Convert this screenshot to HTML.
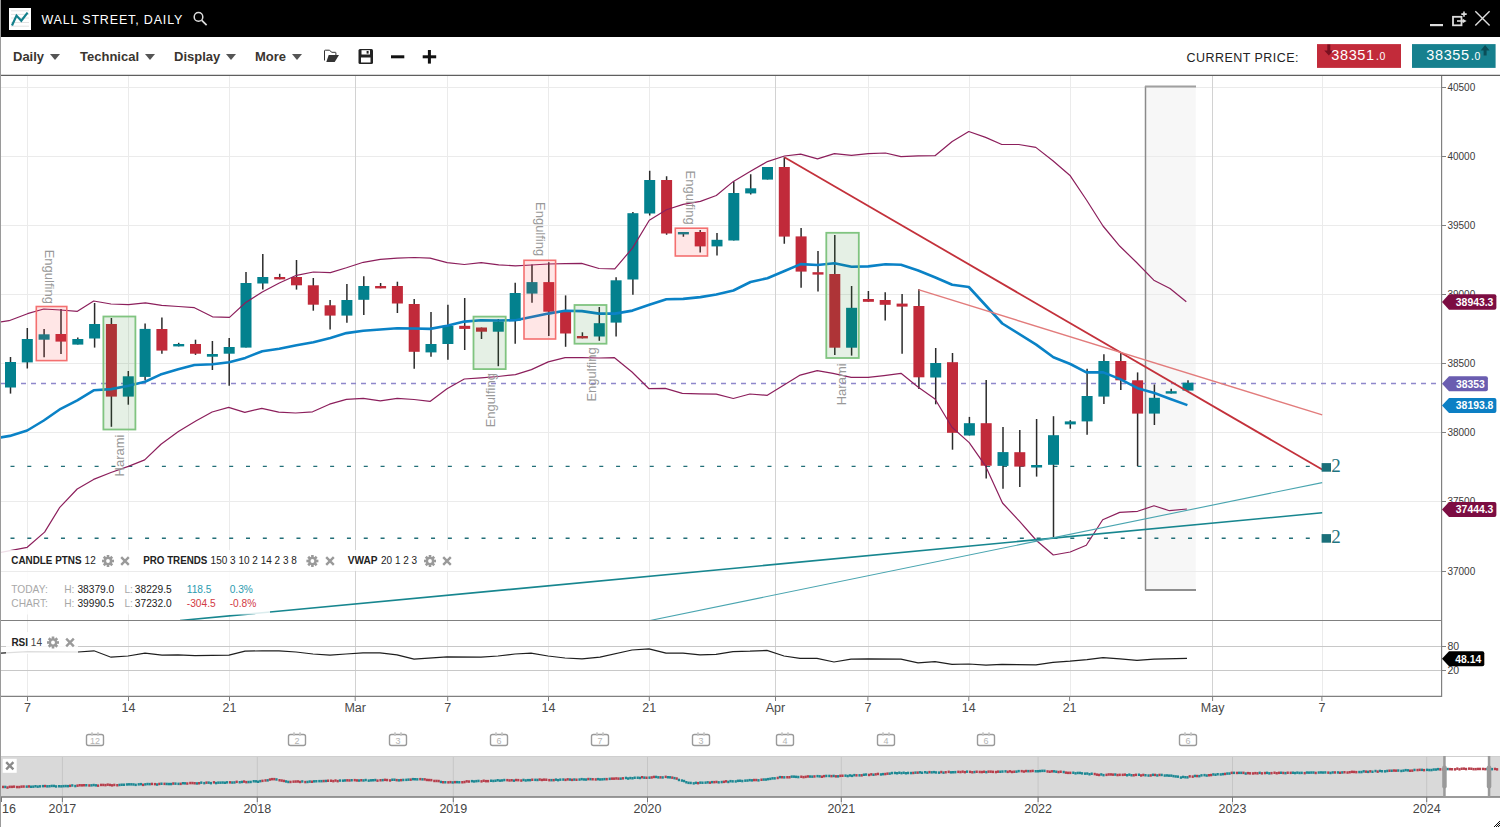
<!DOCTYPE html>
<html><head><meta charset="utf-8">
<style>
*{margin:0;padding:0;box-sizing:border-box}
html,body{width:1500px;height:827px;overflow:hidden;background:#fff;font-family:"Liberation Sans",sans-serif}
#hdr{position:absolute;left:0;top:0;width:1500px;height:37px;background:#000}
#tb{position:absolute;left:0;top:37px;width:1500px;height:38px;background:#fff}
.menu{position:absolute;top:12px;font-size:13px;font-weight:bold;color:#3a3530;white-space:nowrap}
.tri{display:inline-block;width:0;height:0;border-left:5px solid transparent;border-right:5px solid transparent;border-top:6px solid #555;vertical-align:middle;margin-left:6px;position:relative;top:-1px}
#lb{position:absolute;left:0;top:0;width:1px;height:827px;background:#9a9a9a}
svg{position:absolute;left:0;top:0}
</style></head><body>
<div id="hdr">
 <svg width="1500" height="37" style="position:absolute;left:0;top:0">
  <rect x="9" y="8" width="22" height="22" fill="#fff"/>
  <g stroke="#e2e2e2" stroke-width="1"><line x1="11" y1="10.8" x2="29" y2="10.8"/><line x1="11" y1="14.4" x2="29" y2="14.4"/><line x1="11" y1="18" x2="29" y2="18"/><line x1="11" y1="22.5" x2="29" y2="22.5"/><line x1="11" y1="26.2" x2="29" y2="26.2"/></g>
  <polyline points="12,25.5 16.5,15.6 21.3,20.7 27.6,12.6" fill="none" stroke="#13808c" stroke-width="2.2"/>
  <text x="41.4" y="24" font-size="12.5" fill="#fff" textLength="141" lengthAdjust="spacing">WALL STREET, DAILY</text>
  <circle cx="198.5" cy="16.9" r="4.3" fill="none" stroke="#ddd" stroke-width="1.5"/>
  <line x1="201.8" y1="20.3" x2="206.6" y2="25.2" stroke="#ddd" stroke-width="1.7"/>
  <rect x="1430" y="24" width="13" height="2.2" fill="#ddd"/>
  <rect x="1453" y="16.8" width="8.5" height="8.5" fill="none" stroke="#ddd" stroke-width="1.8"/>
  <path d="M1457 21 L1463 21" stroke="#ddd" stroke-width="1.6"/><path d="M1462.6 18.8 L1466.6 21 L1462.6 23.2Z" fill="#ddd"/>
  <path d="M1464 11.4 V16.8 M1461.3 14.1 H1466.7" stroke="#ddd" stroke-width="1.6"/>
  <path d="M1475.3 11.3 L1489.6 25.6 M1489.6 11.3 L1475.3 25.6" stroke="#ddd" stroke-width="1.4"/>
 </svg>
</div>
<div id="tb">
 <div class="menu" style="left:13px">Daily<span class="tri"></span></div>
 <div class="menu" style="left:80px">Technical<span class="tri"></span></div>
 <div class="menu" style="left:174px">Display<span class="tri"></span></div>
 <div class="menu" style="left:255px">More<span class="tri"></span></div>
 <svg width="1500" height="39" style="position:absolute;left:0;top:0">
  <path d="M324.5 23.5 V13.8 Q324.5 13.2 325.2 13.2 H329.3 L331.9 15.3 H335.3 Q335.9 15.3 335.9 15.9 V18.3" fill="none" stroke="#333" stroke-width="1"/>
  <path d="M328.7 18 H339 L334.7 25 H326.3 Z" fill="#333"/>
  <rect x="358.5" y="12" width="14.5" height="15" rx="1.5" fill="#222"/>
  <rect x="361.5" y="13.2" width="8.5" height="4.3" fill="#fff"/>
  <rect x="361" y="20.5" width="9.5" height="5" fill="#fff"/>
  <rect x="366.6" y="14" width="2" height="2.6" fill="#222"/>
  <rect x="391" y="18.3" width="13.3" height="3" fill="#111"/>
  <rect x="422.7" y="18.3" width="13.5" height="3" fill="#111"/>
  <rect x="427.9" y="13" width="3" height="13.6" fill="#111"/>
  <text x="1186.5" y="25" font-size="12.5" fill="#222" textLength="112" lengthAdjust="spacing">CURRENT PRICE:</text>
  <rect x="1317" y="7.1" width="84" height="23.8" fill="#c22b3a"/>
  <path d="M1327.3 7.5 v6 h-3 l4.5 5 l4.5 -5 h-3 v-6z" fill="#7a1020"/>
  <text x="1331.3" y="23" font-size="14.5" fill="#fff" letter-spacing="0.6">38351<tspan font-size="12" dx="1">.</tspan><tspan font-size="10.5">0</tspan></text>
  <rect x="1412" y="7.1" width="83.6" height="23.8" fill="#16808e"/>
  <path d="M1486.6 18.5 v-5 h3 l-4.5 -5.5 l-4.5 5.5 h3 v5z" fill="#0a4e58"/>
  <text x="1426.3" y="23" font-size="14.5" fill="#fff" letter-spacing="0.6">38355<tspan font-size="12" dx="1">.</tspan><tspan font-size="10.5">0</tspan></text>
 </svg>
</div>
<svg width="1500" height="827" style="position:absolute;left:0;top:0">
<line x1="0" y1="75.4" x2="1500" y2="75.4" stroke="#5f5f5f" stroke-width="1.4"/>
<defs><clipPath id="cp"><rect x="1" y="76" width="1440.5" height="544"/></clipPath><clipPath id="rp"><rect x="1" y="621" width="1440.5" height="75"/></clipPath></defs>
<g clip-path="url(#cp)">
<rect x="1145.3" y="86" width="50.4" height="504" fill="#f7f7f7"/>
<line x1="1" y1="87.5" x2="1441" y2="87.5" stroke="#ebebeb" stroke-width="1"/>
<line x1="1" y1="156.5" x2="1441" y2="156.5" stroke="#ebebeb" stroke-width="1"/>
<line x1="1" y1="225.5" x2="1441" y2="225.5" stroke="#ebebeb" stroke-width="1"/>
<line x1="1" y1="294.5" x2="1441" y2="294.5" stroke="#ebebeb" stroke-width="1"/>
<line x1="1" y1="363.5" x2="1441" y2="363.5" stroke="#ebebeb" stroke-width="1"/>
<line x1="1" y1="432.5" x2="1441" y2="432.5" stroke="#ebebeb" stroke-width="1"/>
<line x1="1" y1="501.5" x2="1441" y2="501.5" stroke="#ebebeb" stroke-width="1"/>
<line x1="1" y1="571.5" x2="1441" y2="571.5" stroke="#ebebeb" stroke-width="1"/>
<line x1="27.5" y1="76" x2="27.5" y2="620" stroke="#ebebeb" stroke-width="1"/>
<line x1="128.5" y1="76" x2="128.5" y2="620" stroke="#ebebeb" stroke-width="1"/>
<line x1="229.5" y1="76" x2="229.5" y2="620" stroke="#ebebeb" stroke-width="1"/>
<line x1="447.5" y1="76" x2="447.5" y2="620" stroke="#ebebeb" stroke-width="1"/>
<line x1="548.5" y1="76" x2="548.5" y2="620" stroke="#ebebeb" stroke-width="1"/>
<line x1="649.5" y1="76" x2="649.5" y2="620" stroke="#ebebeb" stroke-width="1"/>
<line x1="868.5" y1="76" x2="868.5" y2="620" stroke="#ebebeb" stroke-width="1"/>
<line x1="969.5" y1="76" x2="969.5" y2="620" stroke="#ebebeb" stroke-width="1"/>
<line x1="1070.5" y1="76" x2="1070.5" y2="620" stroke="#ebebeb" stroke-width="1"/>
<line x1="1322.5" y1="76" x2="1322.5" y2="620" stroke="#ebebeb" stroke-width="1"/>
<line x1="355.5" y1="76" x2="355.5" y2="620" stroke="#d2d2d2" stroke-width="1"/>
<line x1="775.5" y1="76" x2="775.5" y2="620" stroke="#d2d2d2" stroke-width="1"/>
<line x1="1212.5" y1="76" x2="1212.5" y2="620" stroke="#d2d2d2" stroke-width="1"/>
<line x1="1145.5" y1="86" x2="1145.5" y2="590" stroke="#8a8a8a" stroke-width="1.5"/>
<line x1="1145" y1="86.4" x2="1196" y2="86.4" stroke="#a0a0a0" stroke-width="2"/>
<line x1="1145" y1="590" x2="1196" y2="590" stroke="#8f8f8f" stroke-width="1.8"/>
<line x1="1" y1="383.4" x2="1441" y2="383.4" stroke="#8f88cc" stroke-width="1.5" stroke-dasharray="5 5"/>
<line x1="10.5" y1="466.4" x2="1326" y2="466.4" stroke="#226f78" stroke-width="1.4" stroke-dasharray="4 12.822"/>
<line x1="10.5" y1="538.3" x2="1326" y2="538.3" stroke="#226f78" stroke-width="1.4" stroke-dasharray="4 12.822"/>
<line x1="10.5" y1="357.0" x2="10.5" y2="393.6" stroke="#2b2b2b" stroke-width="1.5"/>
<rect x="5.0" y="362.0" width="11" height="25.5" fill="#03818e"/>
<line x1="27.3" y1="328.0" x2="27.3" y2="368.5" stroke="#2b2b2b" stroke-width="1.5"/>
<rect x="21.8" y="339.0" width="11" height="23.4" fill="#03818e"/>
<line x1="44.1" y1="329.0" x2="44.1" y2="357.3" stroke="#2b2b2b" stroke-width="1.5"/>
<rect x="38.6" y="334.3" width="11" height="5.4" fill="#03818e"/>
<line x1="61.0" y1="309.0" x2="61.0" y2="354.0" stroke="#2b2b2b" stroke-width="1.5"/>
<rect x="55.5" y="334.0" width="11" height="7.6" fill="#c12a3a"/>
<line x1="77.8" y1="337.6" x2="77.8" y2="344.6" stroke="#2b2b2b" stroke-width="1.5"/>
<rect x="72.3" y="339.0" width="11" height="5.6" fill="#03818e"/>
<line x1="94.6" y1="303.0" x2="94.6" y2="347.6" stroke="#2b2b2b" stroke-width="1.5"/>
<rect x="89.1" y="324.0" width="11" height="14.5" fill="#03818e"/>
<line x1="111.4" y1="318.0" x2="111.4" y2="426.8" stroke="#2b2b2b" stroke-width="1.5"/>
<rect x="105.9" y="324.0" width="11" height="72.6" fill="#c12a3a"/>
<line x1="128.3" y1="371.0" x2="128.3" y2="404.7" stroke="#2b2b2b" stroke-width="1.5"/>
<rect x="122.8" y="376.3" width="11" height="20.3" fill="#03818e"/>
<line x1="145.1" y1="323.4" x2="145.1" y2="380.3" stroke="#2b2b2b" stroke-width="1.5"/>
<rect x="139.6" y="328.9" width="11" height="48.0" fill="#03818e"/>
<line x1="161.9" y1="317.4" x2="161.9" y2="353.7" stroke="#2b2b2b" stroke-width="1.5"/>
<rect x="156.4" y="329.0" width="11" height="21.6" fill="#c12a3a"/>
<line x1="178.7" y1="342.8" x2="178.7" y2="346.4" stroke="#2b2b2b" stroke-width="1.5"/>
<rect x="173.2" y="344.0" width="11" height="2.4" fill="#03818e"/>
<line x1="195.5" y1="339.7" x2="195.5" y2="354.9" stroke="#2b2b2b" stroke-width="1.5"/>
<rect x="190.0" y="344.0" width="11" height="9.7" fill="#c12a3a"/>
<line x1="212.4" y1="341.0" x2="212.4" y2="370.0" stroke="#2b2b2b" stroke-width="1.5"/>
<rect x="206.9" y="354.0" width="11" height="2.7" fill="#03818e"/>
<line x1="229.2" y1="338.0" x2="229.2" y2="385.7" stroke="#2b2b2b" stroke-width="1.5"/>
<rect x="223.7" y="347.0" width="11" height="6.7" fill="#03818e"/>
<line x1="246.0" y1="272.0" x2="246.0" y2="347.6" stroke="#2b2b2b" stroke-width="1.5"/>
<rect x="240.5" y="283.0" width="11" height="64.6" fill="#03818e"/>
<line x1="262.8" y1="254.0" x2="262.8" y2="289.6" stroke="#2b2b2b" stroke-width="1.5"/>
<rect x="257.3" y="277.0" width="11" height="6.5" fill="#03818e"/>
<line x1="279.7" y1="273.8" x2="279.7" y2="279.3" stroke="#2b2b2b" stroke-width="1.5"/>
<rect x="274.2" y="277.0" width="11" height="2.4" fill="#c12a3a"/>
<line x1="296.5" y1="260.0" x2="296.5" y2="289.6" stroke="#2b2b2b" stroke-width="1.5"/>
<rect x="291.0" y="277.0" width="11" height="8.3" fill="#c12a3a"/>
<line x1="313.3" y1="278.0" x2="313.3" y2="310.7" stroke="#2b2b2b" stroke-width="1.5"/>
<rect x="307.8" y="285.3" width="11" height="19.4" fill="#c12a3a"/>
<line x1="330.1" y1="300.0" x2="330.1" y2="329.5" stroke="#2b2b2b" stroke-width="1.5"/>
<rect x="324.6" y="305.3" width="11" height="10.3" fill="#c12a3a"/>
<line x1="346.9" y1="284.0" x2="346.9" y2="322.8" stroke="#2b2b2b" stroke-width="1.5"/>
<rect x="341.4" y="300.0" width="11" height="15.6" fill="#03818e"/>
<line x1="363.8" y1="276.3" x2="363.8" y2="315.0" stroke="#2b2b2b" stroke-width="1.5"/>
<rect x="358.3" y="286.0" width="11" height="13.8" fill="#03818e"/>
<line x1="380.6" y1="283.0" x2="380.6" y2="288.3" stroke="#2b2b2b" stroke-width="1.5"/>
<rect x="375.1" y="286.0" width="11" height="2.4" fill="#c12a3a"/>
<line x1="397.4" y1="281.7" x2="397.4" y2="313.0" stroke="#2b2b2b" stroke-width="1.5"/>
<rect x="391.9" y="286.0" width="11" height="17.5" fill="#c12a3a"/>
<line x1="414.2" y1="299.0" x2="414.2" y2="368.8" stroke="#2b2b2b" stroke-width="1.5"/>
<rect x="408.7" y="304.0" width="11" height="47.8" fill="#c12a3a"/>
<line x1="431.0" y1="312.0" x2="431.0" y2="356.7" stroke="#2b2b2b" stroke-width="1.5"/>
<rect x="425.5" y="344.0" width="11" height="8.4" fill="#03818e"/>
<line x1="447.9" y1="304.7" x2="447.9" y2="359.7" stroke="#2b2b2b" stroke-width="1.5"/>
<rect x="442.4" y="325.8" width="11" height="18.2" fill="#03818e"/>
<line x1="464.7" y1="298.0" x2="464.7" y2="350.0" stroke="#2b2b2b" stroke-width="1.5"/>
<rect x="459.2" y="325.8" width="11" height="3.1" fill="#c12a3a"/>
<line x1="481.5" y1="327.5" x2="481.5" y2="339.0" stroke="#2b2b2b" stroke-width="1.5"/>
<rect x="476.0" y="327.5" width="11" height="4.2" fill="#c12a3a"/>
<line x1="498.3" y1="319.0" x2="498.3" y2="366.2" stroke="#2b2b2b" stroke-width="1.5"/>
<rect x="492.8" y="321.4" width="11" height="10.3" fill="#03818e"/>
<line x1="515.2" y1="282.7" x2="515.2" y2="343.8" stroke="#2b2b2b" stroke-width="1.5"/>
<rect x="509.7" y="293.0" width="11" height="27.8" fill="#03818e"/>
<line x1="532.0" y1="264.6" x2="532.0" y2="302.7" stroke="#2b2b2b" stroke-width="1.5"/>
<rect x="526.5" y="282.1" width="11" height="11.5" fill="#03818e"/>
<line x1="548.8" y1="262.2" x2="548.8" y2="335.9" stroke="#2b2b2b" stroke-width="1.5"/>
<rect x="543.3" y="282.1" width="11" height="29.6" fill="#c12a3a"/>
<line x1="565.6" y1="295.4" x2="565.6" y2="346.8" stroke="#2b2b2b" stroke-width="1.5"/>
<rect x="560.1" y="311.7" width="11" height="21.8" fill="#c12a3a"/>
<line x1="582.4" y1="332.3" x2="582.4" y2="338.4" stroke="#2b2b2b" stroke-width="1.5"/>
<rect x="576.9" y="336.0" width="11" height="2.4" fill="#c12a3a"/>
<line x1="599.3" y1="307.0" x2="599.3" y2="340.8" stroke="#2b2b2b" stroke-width="1.5"/>
<rect x="593.8" y="323.2" width="11" height="13.3" fill="#03818e"/>
<line x1="616.1" y1="277.3" x2="616.1" y2="336.5" stroke="#2b2b2b" stroke-width="1.5"/>
<rect x="610.6" y="280.3" width="11" height="42.3" fill="#03818e"/>
<line x1="632.9" y1="212.0" x2="632.9" y2="294.8" stroke="#2b2b2b" stroke-width="1.5"/>
<rect x="627.4" y="213.2" width="11" height="66.3" fill="#03818e"/>
<line x1="649.7" y1="170.8" x2="649.7" y2="215.6" stroke="#2b2b2b" stroke-width="1.5"/>
<rect x="644.2" y="180.0" width="11" height="33.5" fill="#03818e"/>
<line x1="666.6" y1="176.2" x2="666.6" y2="234.8" stroke="#2b2b2b" stroke-width="1.5"/>
<rect x="661.1" y="180.0" width="11" height="53.5" fill="#c12a3a"/>
<line x1="683.4" y1="232.0" x2="683.4" y2="236.8" stroke="#2b2b2b" stroke-width="1.5"/>
<rect x="677.9" y="232.0" width="11" height="2.4" fill="#03818e"/>
<line x1="700.2" y1="230.0" x2="700.2" y2="252.6" stroke="#2b2b2b" stroke-width="1.5"/>
<rect x="694.7" y="232.0" width="11" height="14.4" fill="#c12a3a"/>
<line x1="717.0" y1="232.9" x2="717.0" y2="255.6" stroke="#2b2b2b" stroke-width="1.5"/>
<rect x="711.5" y="239.8" width="11" height="6.6" fill="#03818e"/>
<line x1="733.8" y1="181.4" x2="733.8" y2="240.5" stroke="#2b2b2b" stroke-width="1.5"/>
<rect x="728.3" y="193.0" width="11" height="47.5" fill="#03818e"/>
<line x1="750.7" y1="174.2" x2="750.7" y2="194.5" stroke="#2b2b2b" stroke-width="1.5"/>
<rect x="745.2" y="188.3" width="11" height="5.1" fill="#03818e"/>
<line x1="767.5" y1="167.0" x2="767.5" y2="179.6" stroke="#2b2b2b" stroke-width="1.5"/>
<rect x="762.0" y="167.0" width="11" height="12.6" fill="#03818e"/>
<line x1="784.3" y1="157.2" x2="784.3" y2="243.8" stroke="#2b2b2b" stroke-width="1.5"/>
<rect x="778.8" y="167.0" width="11" height="69.6" fill="#c12a3a"/>
<line x1="801.1" y1="228.0" x2="801.1" y2="287.7" stroke="#2b2b2b" stroke-width="1.5"/>
<rect x="795.6" y="236.4" width="11" height="35.2" fill="#c12a3a"/>
<line x1="818.0" y1="251.0" x2="818.0" y2="291.6" stroke="#2b2b2b" stroke-width="1.5"/>
<rect x="812.5" y="272.2" width="11" height="2.4" fill="#c12a3a"/>
<line x1="834.8" y1="235.1" x2="834.8" y2="355.0" stroke="#2b2b2b" stroke-width="1.5"/>
<rect x="829.3" y="274.0" width="11" height="73.7" fill="#c12a3a"/>
<line x1="851.6" y1="286.0" x2="851.6" y2="355.6" stroke="#2b2b2b" stroke-width="1.5"/>
<rect x="846.1" y="307.8" width="11" height="39.9" fill="#03818e"/>
<line x1="868.4" y1="291.0" x2="868.4" y2="301.8" stroke="#2b2b2b" stroke-width="1.5"/>
<rect x="862.9" y="299.0" width="11" height="2.8" fill="#c12a3a"/>
<line x1="885.2" y1="292.2" x2="885.2" y2="320.5" stroke="#2b2b2b" stroke-width="1.5"/>
<rect x="879.7" y="300.0" width="11" height="4.8" fill="#c12a3a"/>
<line x1="902.1" y1="294.0" x2="902.1" y2="353.7" stroke="#2b2b2b" stroke-width="1.5"/>
<rect x="896.6" y="303.6" width="11" height="3.0" fill="#c12a3a"/>
<line x1="918.9" y1="289.0" x2="918.9" y2="389.0" stroke="#2b2b2b" stroke-width="1.5"/>
<rect x="913.4" y="306.0" width="11" height="71.3" fill="#c12a3a"/>
<line x1="935.7" y1="348.0" x2="935.7" y2="404.3" stroke="#2b2b2b" stroke-width="1.5"/>
<rect x="930.2" y="363.0" width="11" height="14.5" fill="#03818e"/>
<line x1="952.5" y1="353.0" x2="952.5" y2="449.7" stroke="#2b2b2b" stroke-width="1.5"/>
<rect x="947.0" y="362.2" width="11" height="70.6" fill="#c12a3a"/>
<line x1="969.4" y1="416.9" x2="969.4" y2="435.5" stroke="#2b2b2b" stroke-width="1.5"/>
<rect x="963.9" y="423.2" width="11" height="12.3" fill="#03818e"/>
<line x1="986.2" y1="380.0" x2="986.2" y2="478.6" stroke="#2b2b2b" stroke-width="1.5"/>
<rect x="980.7" y="423.2" width="11" height="42.5" fill="#c12a3a"/>
<line x1="1003.0" y1="427.0" x2="1003.0" y2="488.8" stroke="#2b2b2b" stroke-width="1.5"/>
<rect x="997.5" y="452.1" width="11" height="13.8" fill="#03818e"/>
<line x1="1019.8" y1="430.0" x2="1019.8" y2="487.0" stroke="#2b2b2b" stroke-width="1.5"/>
<rect x="1014.3" y="452.2" width="11" height="14.4" fill="#c12a3a"/>
<line x1="1036.6" y1="419.0" x2="1036.6" y2="476.6" stroke="#2b2b2b" stroke-width="1.5"/>
<rect x="1031.1" y="465.0" width="11" height="2.5" fill="#03818e"/>
<line x1="1053.5" y1="416.2" x2="1053.5" y2="537.5" stroke="#2b2b2b" stroke-width="1.5"/>
<rect x="1048.0" y="435.2" width="11" height="29.6" fill="#03818e"/>
<line x1="1070.3" y1="420.2" x2="1070.3" y2="428.7" stroke="#2b2b2b" stroke-width="1.5"/>
<rect x="1064.8" y="421.4" width="11" height="3.0" fill="#03818e"/>
<line x1="1087.1" y1="368.8" x2="1087.1" y2="434.7" stroke="#2b2b2b" stroke-width="1.5"/>
<rect x="1081.6" y="396.0" width="11" height="25.4" fill="#03818e"/>
<line x1="1103.9" y1="354.3" x2="1103.9" y2="403.9" stroke="#2b2b2b" stroke-width="1.5"/>
<rect x="1098.4" y="361.0" width="11" height="35.6" fill="#03818e"/>
<line x1="1120.8" y1="353.1" x2="1120.8" y2="390.0" stroke="#2b2b2b" stroke-width="1.5"/>
<rect x="1115.3" y="361.0" width="11" height="19.3" fill="#c12a3a"/>
<line x1="1137.6" y1="372.4" x2="1137.6" y2="466.2" stroke="#2b2b2b" stroke-width="1.5"/>
<rect x="1132.1" y="380.3" width="11" height="33.3" fill="#c12a3a"/>
<line x1="1154.4" y1="384.5" x2="1154.4" y2="425.0" stroke="#2b2b2b" stroke-width="1.5"/>
<rect x="1148.9" y="397.8" width="11" height="15.8" fill="#03818e"/>
<line x1="1171.2" y1="388.8" x2="1171.2" y2="393.6" stroke="#2b2b2b" stroke-width="1.5"/>
<rect x="1165.7" y="391.2" width="11" height="2.4" fill="#03818e"/>
<line x1="1188.0" y1="380.3" x2="1188.0" y2="390.6" stroke="#2b2b2b" stroke-width="1.5"/>
<rect x="1182.5" y="382.7" width="11" height="7.9" fill="#03818e"/>
<polyline points="0.0,322.0 9.0,320.7 27.5,313.7 43.8,309.0 60.5,310.0 77.4,311.3 93.7,301.0 111.0,304.0 128.5,304.7 145.4,302.9 161.7,305.3 178.4,306.5 194.4,307.7 212.5,316.8 229.5,317.4 245.4,302.8 262.3,292.0 279.3,283.0 296.5,275.3 313.4,272.0 330.4,272.6 346.4,267.8 363.3,262.3 380.3,259.3 397.2,258.1 414.4,257.5 430.1,258.1 447.1,262.7 464.3,264.5 481.2,262.7 498.7,264.9 515.4,265.8 531.4,265.0 548.3,264.0 565.2,263.7 581.6,263.4 599.0,268.5 614.8,268.8 632.5,248.1 649.3,220.3 666.4,209.7 683.2,204.4 700.4,201.4 716.3,195.5 733.4,181.4 750.5,171.3 767.4,161.6 784.5,156.0 800.7,154.2 817.5,158.9 834.4,153.6 851.5,155.4 868.3,153.6 885.4,153.0 901.0,156.6 918.2,155.8 935.0,155.7 952.2,141.5 968.8,131.5 985.6,137.4 1001.8,144.5 1018.7,144.5 1035.8,147.4 1052.9,160.7 1070.3,175.8 1086.5,200.0 1103.0,226.0 1119.9,246.3 1136.1,262.0 1153.8,280.2 1170.0,288.5 1186.3,301.8" fill="none" stroke="#8c1f5c" stroke-width="1.2" stroke-linejoin="round"/>
<polyline points="0.0,552.5 27.2,547.3 44.6,532.1 59.8,507.3 77.2,489.0 93.6,479.4 111.0,472.5 128.4,466.4 144.7,459.9 161.0,444.2 178.4,431.6 195.8,421.1 212.1,412.0 228.6,407.4 244.8,412.4 261.8,408.3 278.7,412.2 295.6,413.0 312.6,411.8 329.5,404.2 346.4,399.4 363.3,398.4 380.3,400.8 397.2,398.4 414.0,399.5 430.0,401.4 447.0,388.7 464.3,379.0 481.0,377.8 498.0,376.5 515.4,374.6 531.4,369.6 548.2,361.9 565.1,357.6 582.0,357.6 599.0,358.0 614.5,357.7 632.0,372.0 649.0,388.7 665.3,388.3 682.3,393.3 699.0,393.8 716.3,394.2 733.3,398.5 749.9,394.0 767.3,395.3 784.0,385.0 800.2,375.1 817.2,370.6 833.0,373.3 851.2,377.4 868.2,377.4 884.0,375.6 901.0,373.3 918.0,387.0 935.0,399.0 952.0,427.3 969.2,442.6 985.3,465.6 1002.5,503.0 1019.4,521.2 1036.4,540.5 1053.3,555.0 1070.2,552.0 1086.3,545.3 1102.7,519.7 1119.7,512.4 1137.6,511.3 1154.0,505.8 1169.5,510.7 1186.9,509.0" fill="none" stroke="#8c1f5c" stroke-width="1.2" stroke-linejoin="round"/>
<polyline points="0.0,437.5 9.8,435.9 27.2,430.5 43.8,420.5 60.7,408.8 77.3,400.3 93.7,390.3 111.3,389.1 128.5,385.8 145.0,381.7 160.5,374.6 178.2,369.3 194.4,365.0 212.6,364.3 229.2,362.2 245.3,357.9 262.3,351.2 279.3,348.8 296.5,345.2 313.4,342.2 330.4,338.0 346.4,333.1 363.3,330.7 380.3,329.5 397.2,328.3 414.0,328.5 430.1,328.9 447.0,325.8 464.3,321.6 481.0,320.2 498.5,320.5 515.4,320.2 531.4,317.0 548.3,313.6 565.0,310.8 582.0,311.1 599.0,313.6 615.0,313.6 632.5,310.6 649.3,304.8 666.4,299.2 683.2,298.9 700.4,297.1 716.3,294.5 733.4,290.5 750.5,282.0 767.4,278.2 784.5,271.0 800.7,264.1 817.5,265.0 834.4,263.2 851.5,266.8 868.3,266.4 885.4,264.2 901.0,264.7 918.2,270.5 934.8,277.2 952.2,284.7 968.8,287.0 1002.3,323.5 1036.2,344.6 1053.4,357.3 1070.3,364.0 1086.4,372.4 1103.3,372.4 1120.2,379.1 1137.5,388.2 1154.4,393.0 1170.4,399.0 1187.4,405.1" fill="none" stroke="#0a82c6" stroke-width="2.6" stroke-linejoin="round"/>
<line x1="784.4" y1="157.2" x2="1322.2" y2="469.5" stroke="#c3313b" stroke-width="1.8"/>
<line x1="918.3" y1="289.7" x2="1322.2" y2="414.9" stroke="#e27c7c" stroke-width="1.4"/>
<line x1="180" y1="620.5" x2="1322.2" y2="512.8" stroke="#17868f" stroke-width="1.6"/>
<line x1="650" y1="620.5" x2="1322.2" y2="482.6" stroke="#4aa5b0" stroke-width="1.1"/>
<rect x="36.3" y="306.5" width="30.5" height="54.1" fill="rgba(255,60,60,0.13)" stroke="#f47070" stroke-width="1.6"/>
<rect x="103.4" y="316.5" width="32.0" height="113.0" fill="rgba(40,130,40,0.12)" stroke="#80c480" stroke-width="1.8"/>
<rect x="473.5" y="316.6" width="32.2" height="52.5" fill="rgba(40,130,40,0.12)" stroke="#80c480" stroke-width="1.8"/>
<rect x="524.0" y="260.3" width="31.6" height="78.7" fill="rgba(255,60,60,0.13)" stroke="#f47070" stroke-width="1.6"/>
<rect x="574.5" y="305.0" width="32.0" height="38.7" fill="rgba(40,130,40,0.12)" stroke="#80c480" stroke-width="1.8"/>
<rect x="675.3" y="228.2" width="32.2" height="27.8" fill="rgba(255,60,60,0.13)" stroke="#f47070" stroke-width="1.6"/>
<rect x="826.3" y="232.8" width="32.5" height="125.2" fill="rgba(40,130,40,0.12)" stroke="#80c480" stroke-width="1.8"/>
<text transform="translate(49.9,249.7) rotate(90)" x="0" y="4.5" font-size="13" fill="#999">Engulfing</text>
<text transform="translate(119.2,476.4) rotate(-90)" x="0" y="4.5" font-size="13" fill="#999">Harami</text>
<text transform="translate(490.0,427.3) rotate(-90)" x="0" y="4.5" font-size="13" fill="#999">Engulfing</text>
<text transform="translate(540.0,202.0) rotate(90)" x="0" y="4.5" font-size="13" fill="#999">Engulfing</text>
<text transform="translate(591.0,401.6) rotate(-90)" x="0" y="4.5" font-size="13" fill="#999">Engulfing</text>
<text transform="translate(690.9,170.5) rotate(90)" x="0" y="4.5" font-size="13" fill="#999">Engulfing</text>
<text transform="translate(841.7,405.3) rotate(-90)" x="0" y="4.5" font-size="13" fill="#999">Harami</text>
<rect x="1321.6" y="463.1" width="9.4" height="8.6" fill="#1a6f79"/>
<text x="1331.3" y="471.8" font-family="Liberation Serif" font-size="19" fill="#1f7480">2</text>
<rect x="1321.6" y="534.1" width="9.4" height="8.6" fill="#1a6f79"/>
<text x="1331.3" y="542.8" font-family="Liberation Serif" font-size="19" fill="#1f7480">2</text>
</g>
<rect x="1" y="550" width="460" height="21" fill="rgba(255,255,255,0.85)"/>
<rect x="1" y="572" width="269" height="42.5" fill="rgba(255,255,255,0.85)"/>
<g font-size="10" fill="#222">
<text x="11.3" y="564" font-weight="bold" textLength="70.2" lengthAdjust="spacingAndGlyphs">CANDLE PTNS</text><text x="84.6" y="564">12</text>
<g transform="translate(108.0,561.0)" fill="#9a9a9a"><rect x="-1.3" y="-6" width="2.6" height="3" transform="rotate(0)"/><rect x="-1.3" y="-6" width="2.6" height="3" transform="rotate(45)"/><rect x="-1.3" y="-6" width="2.6" height="3" transform="rotate(90)"/><rect x="-1.3" y="-6" width="2.6" height="3" transform="rotate(135)"/><rect x="-1.3" y="-6" width="2.6" height="3" transform="rotate(180)"/><rect x="-1.3" y="-6" width="2.6" height="3" transform="rotate(225)"/><rect x="-1.3" y="-6" width="2.6" height="3" transform="rotate(270)"/><rect x="-1.3" y="-6" width="2.6" height="3" transform="rotate(315)"/><circle r="4.3"/><circle r="1.9" fill="#fff"/></g>
<path d="M121.2 557.2L128.8 564.8M128.8 557.2L121.2 564.8" stroke="#9a9a9a" stroke-width="2.4"/>
<text x="143.2" y="564" font-weight="bold" textLength="64.2" lengthAdjust="spacingAndGlyphs">PRO TRENDS</text><text x="210.6" y="564">150 3 10 2 14 2 3 8</text>
<g transform="translate(312.4,561.0)" fill="#9a9a9a"><rect x="-1.3" y="-6" width="2.6" height="3" transform="rotate(0)"/><rect x="-1.3" y="-6" width="2.6" height="3" transform="rotate(45)"/><rect x="-1.3" y="-6" width="2.6" height="3" transform="rotate(90)"/><rect x="-1.3" y="-6" width="2.6" height="3" transform="rotate(135)"/><rect x="-1.3" y="-6" width="2.6" height="3" transform="rotate(180)"/><rect x="-1.3" y="-6" width="2.6" height="3" transform="rotate(225)"/><rect x="-1.3" y="-6" width="2.6" height="3" transform="rotate(270)"/><rect x="-1.3" y="-6" width="2.6" height="3" transform="rotate(315)"/><circle r="4.3"/><circle r="1.9" fill="#fff"/></g>
<path d="M326.2 557.2L333.8 564.8M333.8 557.2L326.2 564.8" stroke="#9a9a9a" stroke-width="2.4"/>
<text x="347.8" y="564" font-weight="bold" textLength="29.8" lengthAdjust="spacingAndGlyphs">VWAP</text><text x="381" y="564">20 1 2 3</text>
<g transform="translate(430.0,561.0)" fill="#9a9a9a"><rect x="-1.3" y="-6" width="2.6" height="3" transform="rotate(0)"/><rect x="-1.3" y="-6" width="2.6" height="3" transform="rotate(45)"/><rect x="-1.3" y="-6" width="2.6" height="3" transform="rotate(90)"/><rect x="-1.3" y="-6" width="2.6" height="3" transform="rotate(135)"/><rect x="-1.3" y="-6" width="2.6" height="3" transform="rotate(180)"/><rect x="-1.3" y="-6" width="2.6" height="3" transform="rotate(225)"/><rect x="-1.3" y="-6" width="2.6" height="3" transform="rotate(270)"/><rect x="-1.3" y="-6" width="2.6" height="3" transform="rotate(315)"/><circle r="4.3"/><circle r="1.9" fill="#fff"/></g>
<path d="M443.2 557.2L450.8 564.8M450.8 557.2L443.2 564.8" stroke="#9a9a9a" stroke-width="2.4"/>
</g>
<g font-size="10.2" fill="#222">
<text x="11.3" y="593.3" fill="#a8a8a8">TODAY:</text><text x="64.2" y="593.3" fill="#a8a8a8">H:</text><text x="77.4" y="593.3">38379.0</text><text x="124.4" y="593.3" fill="#a8a8a8">L:</text><text x="134.8" y="593.3">38229.5</text><text x="186.8" y="593.3" fill="#2a9bb0">118.5</text><text x="229.7" y="593.3" fill="#2a9bb0">0.3%</text>
<text x="11.3" y="607.2" fill="#a8a8a8">CHART:</text><text x="64.2" y="607.2" fill="#a8a8a8">H:</text><text x="77.4" y="607.2">39990.5</text><text x="124.4" y="607.2" fill="#a8a8a8">L:</text><text x="134.8" y="607.2">37232.0</text><text x="186.8" y="607.2" fill="#d23a44">-304.5</text><text x="229.7" y="607.2" fill="#d23a44">-0.8%</text>
</g>
<line x1="1" y1="620.5" x2="1441.5" y2="620.5" stroke="#808080" stroke-width="1.2"/>
<g clip-path="url(#rp)">
<line x1="27.5" y1="621" x2="27.5" y2="696" stroke="#ebebeb" stroke-width="1"/>
<line x1="128.5" y1="621" x2="128.5" y2="696" stroke="#ebebeb" stroke-width="1"/>
<line x1="229.5" y1="621" x2="229.5" y2="696" stroke="#ebebeb" stroke-width="1"/>
<line x1="447.5" y1="621" x2="447.5" y2="696" stroke="#ebebeb" stroke-width="1"/>
<line x1="548.5" y1="621" x2="548.5" y2="696" stroke="#ebebeb" stroke-width="1"/>
<line x1="649.5" y1="621" x2="649.5" y2="696" stroke="#ebebeb" stroke-width="1"/>
<line x1="868.5" y1="621" x2="868.5" y2="696" stroke="#ebebeb" stroke-width="1"/>
<line x1="969.5" y1="621" x2="969.5" y2="696" stroke="#ebebeb" stroke-width="1"/>
<line x1="1070.5" y1="621" x2="1070.5" y2="696" stroke="#ebebeb" stroke-width="1"/>
<line x1="1322.5" y1="621" x2="1322.5" y2="696" stroke="#ebebeb" stroke-width="1"/>
<line x1="355.5" y1="621" x2="355.5" y2="696" stroke="#d2d2d2" stroke-width="1"/>
<line x1="775.5" y1="621" x2="775.5" y2="696" stroke="#d2d2d2" stroke-width="1"/>
<line x1="1212.5" y1="621" x2="1212.5" y2="696" stroke="#d2d2d2" stroke-width="1"/>
<line x1="1" y1="646.5" x2="1441" y2="646.5" stroke="#c8c8c8" stroke-width="1"/>
<line x1="1" y1="670.5" x2="1441" y2="670.5" stroke="#c8c8c8" stroke-width="1"/>
<polyline points="0.0,653.2 27.5,651.6 78.0,652.0 94.0,650.8 111.0,657.2 128.0,656.0 145.0,653.2 162.0,655.2 178.0,654.8 195.0,655.6 229.0,655.2 245.0,651.2 262.0,650.8 279.0,650.8 296.0,652.0 313.0,654.0 330.0,655.2 346.0,654.0 363.0,652.8 380.0,652.8 397.0,654.8 414.0,659.2 447.0,656.8 481.0,657.2 498.0,656.0 515.0,654.0 531.0,653.2 548.0,656.0 565.0,658.0 582.0,658.8 600.0,657.2 632.0,650.0 649.0,648.8 666.0,653.2 683.0,653.2 700.0,654.8 716.0,654.4 733.0,651.6 750.0,651.2 767.0,650.4 784.0,656.0 800.0,658.4 817.0,658.4 834.0,662.0 851.0,659.2 868.0,658.8 901.0,659.2 918.0,662.8 935.0,661.6 952.0,664.4 969.0,664.0 986.0,665.2 1002.0,664.4 1036.0,664.8 1053.0,662.4 1070.0,661.2 1087.0,659.6 1103.0,657.6 1120.0,658.8 1137.0,660.4 1154.0,659.2 1187.0,658.4" fill="none" stroke="#1e1e1e" stroke-width="1.2"/>
</g>
<rect x="6" y="632" width="72" height="22" fill="rgba(255,255,255,0.85)"/>
<text x="11.4" y="646" font-size="10" fill="#222"><tspan font-weight="bold">RSI</tspan><tspan fill="#444"> 14</tspan></text>
<g transform="translate(53.0,642.5)" fill="#9a9a9a"><rect x="-1.3" y="-6" width="2.6" height="3" transform="rotate(0)"/><rect x="-1.3" y="-6" width="2.6" height="3" transform="rotate(45)"/><rect x="-1.3" y="-6" width="2.6" height="3" transform="rotate(90)"/><rect x="-1.3" y="-6" width="2.6" height="3" transform="rotate(135)"/><rect x="-1.3" y="-6" width="2.6" height="3" transform="rotate(180)"/><rect x="-1.3" y="-6" width="2.6" height="3" transform="rotate(225)"/><rect x="-1.3" y="-6" width="2.6" height="3" transform="rotate(270)"/><rect x="-1.3" y="-6" width="2.6" height="3" transform="rotate(315)"/><circle r="4.3"/><circle r="1.9" fill="#fff"/></g>
<path d="M66.2 638.7L73.8 646.3M73.8 638.7L66.2 646.3" stroke="#9a9a9a" stroke-width="2.4"/>
<line x1="1" y1="696.4" x2="1441.5" y2="696.4" stroke="#808080" stroke-width="1.2"/>
<line x1="1441.6" y1="76" x2="1441.6" y2="697" stroke="#808080" stroke-width="1.2"/>
<line x1="1442" y1="87.5" x2="1446" y2="87.5" stroke="#808080" stroke-width="1"/>
<text x="1447.4" y="91.1" font-size="10" fill="#3a3a3a">40500</text>
<line x1="1442" y1="156.5" x2="1446" y2="156.5" stroke="#808080" stroke-width="1"/>
<text x="1447.4" y="160.1" font-size="10" fill="#3a3a3a">40000</text>
<line x1="1442" y1="225.5" x2="1446" y2="225.5" stroke="#808080" stroke-width="1"/>
<text x="1447.4" y="229.1" font-size="10" fill="#3a3a3a">39500</text>
<line x1="1442" y1="294.5" x2="1446" y2="294.5" stroke="#808080" stroke-width="1"/>
<text x="1447.4" y="298.1" font-size="10" fill="#3a3a3a">39000</text>
<line x1="1442" y1="363.5" x2="1446" y2="363.5" stroke="#808080" stroke-width="1"/>
<text x="1447.4" y="367.1" font-size="10" fill="#3a3a3a">38500</text>
<line x1="1442" y1="432.5" x2="1446" y2="432.5" stroke="#808080" stroke-width="1"/>
<text x="1447.4" y="436.1" font-size="10" fill="#3a3a3a">38000</text>
<line x1="1442" y1="501.5" x2="1446" y2="501.5" stroke="#808080" stroke-width="1"/>
<text x="1447.4" y="505.1" font-size="10" fill="#3a3a3a">37500</text>
<line x1="1442" y1="571.5" x2="1446" y2="571.5" stroke="#808080" stroke-width="1"/>
<text x="1447.4" y="575.1" font-size="10" fill="#3a3a3a">37000</text>
<line x1="1442" y1="646.5" x2="1446" y2="646.5" stroke="#808080" stroke-width="1"/>
<text x="1447.4" y="650.3" font-size="10.5" fill="#3a3a3a">80</text>
<line x1="1442" y1="670.5" x2="1446" y2="670.5" stroke="#808080" stroke-width="1"/>
<text x="1447.4" y="674.3" font-size="10.5" fill="#3a3a3a">20</text>
<path d="M1442 302.0 L1449 294.3 L1494.4 294.3 Q1496.4 294.3 1496.4 296.3 L1496.4 307.7 Q1496.4 309.7 1494.4 309.7 L1449 309.7 Z" fill="#7c0d42"/><text x="1493.4" y="305.8" font-size="10.4" font-weight="bold" fill="#fff" text-anchor="end">38943.3</text>
<path d="M1442 383.8 L1449 376.2 L1485.9 376.2 Q1487.9 376.2 1487.9 378.2 L1487.9 389.3 Q1487.9 391.3 1485.9 391.3 L1449 391.3 Z" fill="#6a5db0"/><text x="1484.9" y="387.6" font-size="10.4" font-weight="bold" fill="#fff" text-anchor="end">38353</text>
<path d="M1442 405.5 L1449 398.0 L1494.4 398.0 Q1496.4 398.0 1496.4 400.0 L1496.4 411.0 Q1496.4 413.0 1494.4 413.0 L1449 413.0 Z" fill="#0c7fc4"/><text x="1493.4" y="409.3" font-size="10.4" font-weight="bold" fill="#fff" text-anchor="end">38193.8</text>
<path d="M1442 509.5 L1449 502.0 L1494.4 502.0 Q1496.4 502.0 1496.4 504.0 L1496.4 515.0 Q1496.4 517.0 1494.4 517.0 L1449 517.0 Z" fill="#7c0d42"/><text x="1493.4" y="513.3" font-size="10.4" font-weight="bold" fill="#fff" text-anchor="end">37444.3</text>
<path d="M1442 658.8 L1449 651.2 L1482.3 651.2 Q1484.3 651.2 1484.3 653.2 L1484.3 664.3 Q1484.3 666.3 1482.3 666.3 L1449 666.3 Z" fill="#000"/><text x="1481.3" y="662.5" font-size="10.4" font-weight="bold" fill="#fff" text-anchor="end">48.14</text>
<line x1="27.5" y1="696" x2="27.5" y2="701" stroke="#808080" stroke-width="1"/>
<text x="27.5" y="711.6" font-size="12.5" fill="#4a4a4a" text-anchor="middle">7</text>
<line x1="128.5" y1="696" x2="128.5" y2="701" stroke="#808080" stroke-width="1"/>
<text x="128.5" y="711.6" font-size="12.5" fill="#4a4a4a" text-anchor="middle">14</text>
<line x1="229.5" y1="696" x2="229.5" y2="701" stroke="#808080" stroke-width="1"/>
<text x="229.5" y="711.6" font-size="12.5" fill="#4a4a4a" text-anchor="middle">21</text>
<line x1="355.2" y1="696" x2="355.2" y2="701" stroke="#808080" stroke-width="1"/>
<text x="355.2" y="711.6" font-size="12.5" fill="#4a4a4a" text-anchor="middle">Mar</text>
<line x1="447.7" y1="696" x2="447.7" y2="701" stroke="#808080" stroke-width="1"/>
<text x="447.7" y="711.6" font-size="12.5" fill="#4a4a4a" text-anchor="middle">7</text>
<line x1="548.5" y1="696" x2="548.5" y2="701" stroke="#808080" stroke-width="1"/>
<text x="548.5" y="711.6" font-size="12.5" fill="#4a4a4a" text-anchor="middle">14</text>
<line x1="649.3" y1="696" x2="649.3" y2="701" stroke="#808080" stroke-width="1"/>
<text x="649.3" y="711.6" font-size="12.5" fill="#4a4a4a" text-anchor="middle">21</text>
<line x1="775.5" y1="696" x2="775.5" y2="701" stroke="#808080" stroke-width="1"/>
<text x="775.5" y="711.6" font-size="12.5" fill="#4a4a4a" text-anchor="middle">Apr</text>
<line x1="867.9" y1="696" x2="867.9" y2="701" stroke="#808080" stroke-width="1"/>
<text x="867.9" y="711.6" font-size="12.5" fill="#4a4a4a" text-anchor="middle">7</text>
<line x1="968.8" y1="696" x2="968.8" y2="701" stroke="#808080" stroke-width="1"/>
<text x="968.8" y="711.6" font-size="12.5" fill="#4a4a4a" text-anchor="middle">14</text>
<line x1="1069.6" y1="696" x2="1069.6" y2="701" stroke="#808080" stroke-width="1"/>
<text x="1069.6" y="711.6" font-size="12.5" fill="#4a4a4a" text-anchor="middle">21</text>
<line x1="1212.6" y1="696" x2="1212.6" y2="701" stroke="#808080" stroke-width="1"/>
<text x="1212.6" y="711.6" font-size="12.5" fill="#4a4a4a" text-anchor="middle">May</text>
<line x1="1321.9" y1="696" x2="1321.9" y2="701" stroke="#808080" stroke-width="1"/>
<text x="1321.9" y="711.6" font-size="12.5" fill="#4a4a4a" text-anchor="middle">7</text>
<rect x="86.5" y="734.5" width="17" height="11" rx="2" fill="#fff" stroke="#9a9a9a" stroke-width="1.4"/>
<rect x="91.2" y="732.3" width="1.6" height="3.5" fill="#c4c4c4"/><rect x="97.2" y="732.3" width="1.6" height="3.5" fill="#c4c4c4"/>
<text x="95.0" y="744" font-size="9" fill="#b4b4b4" text-anchor="middle">12</text>
<rect x="288.5" y="734.5" width="17" height="11" rx="2" fill="#fff" stroke="#9a9a9a" stroke-width="1.4"/>
<rect x="293.2" y="732.3" width="1.6" height="3.5" fill="#c4c4c4"/><rect x="299.2" y="732.3" width="1.6" height="3.5" fill="#c4c4c4"/>
<text x="297.0" y="744" font-size="9" fill="#b4b4b4" text-anchor="middle">2</text>
<rect x="389.5" y="734.5" width="17" height="11" rx="2" fill="#fff" stroke="#9a9a9a" stroke-width="1.4"/>
<rect x="394.2" y="732.3" width="1.6" height="3.5" fill="#c4c4c4"/><rect x="400.2" y="732.3" width="1.6" height="3.5" fill="#c4c4c4"/>
<text x="398.0" y="744" font-size="9" fill="#b4b4b4" text-anchor="middle">3</text>
<rect x="490.5" y="734.5" width="17" height="11" rx="2" fill="#fff" stroke="#9a9a9a" stroke-width="1.4"/>
<rect x="495.2" y="732.3" width="1.6" height="3.5" fill="#c4c4c4"/><rect x="501.2" y="732.3" width="1.6" height="3.5" fill="#c4c4c4"/>
<text x="499.0" y="744" font-size="9" fill="#b4b4b4" text-anchor="middle">6</text>
<rect x="591.5" y="734.5" width="17" height="11" rx="2" fill="#fff" stroke="#9a9a9a" stroke-width="1.4"/>
<rect x="596.2" y="732.3" width="1.6" height="3.5" fill="#c4c4c4"/><rect x="602.2" y="732.3" width="1.6" height="3.5" fill="#c4c4c4"/>
<text x="600.0" y="744" font-size="9" fill="#b4b4b4" text-anchor="middle">7</text>
<rect x="692.5" y="734.5" width="17" height="11" rx="2" fill="#fff" stroke="#9a9a9a" stroke-width="1.4"/>
<rect x="697.2" y="732.3" width="1.6" height="3.5" fill="#c4c4c4"/><rect x="703.2" y="732.3" width="1.6" height="3.5" fill="#c4c4c4"/>
<text x="701.0" y="744" font-size="9" fill="#b4b4b4" text-anchor="middle">3</text>
<rect x="776.5" y="734.5" width="17" height="11" rx="2" fill="#fff" stroke="#9a9a9a" stroke-width="1.4"/>
<rect x="781.2" y="732.3" width="1.6" height="3.5" fill="#c4c4c4"/><rect x="787.2" y="732.3" width="1.6" height="3.5" fill="#c4c4c4"/>
<text x="785.0" y="744" font-size="9" fill="#b4b4b4" text-anchor="middle">4</text>
<rect x="877.5" y="734.5" width="17" height="11" rx="2" fill="#fff" stroke="#9a9a9a" stroke-width="1.4"/>
<rect x="882.2" y="732.3" width="1.6" height="3.5" fill="#c4c4c4"/><rect x="888.2" y="732.3" width="1.6" height="3.5" fill="#c4c4c4"/>
<text x="886.0" y="744" font-size="9" fill="#b4b4b4" text-anchor="middle">4</text>
<rect x="977.5" y="734.5" width="17" height="11" rx="2" fill="#fff" stroke="#9a9a9a" stroke-width="1.4"/>
<rect x="982.2" y="732.3" width="1.6" height="3.5" fill="#c4c4c4"/><rect x="988.2" y="732.3" width="1.6" height="3.5" fill="#c4c4c4"/>
<text x="986.0" y="744" font-size="9" fill="#b4b4b4" text-anchor="middle">6</text>
<rect x="1179.5" y="734.5" width="17" height="11" rx="2" fill="#fff" stroke="#9a9a9a" stroke-width="1.4"/>
<rect x="1184.2" y="732.3" width="1.6" height="3.5" fill="#c4c4c4"/><rect x="1190.2" y="732.3" width="1.6" height="3.5" fill="#c4c4c4"/>
<text x="1188.0" y="744" font-size="9" fill="#b4b4b4" text-anchor="middle">6</text>
<rect x="1" y="756" width="1499" height="41" fill="#d9d9d9"/>
<rect x="1444" y="756" width="45" height="41" fill="#fff"/>
<line x1="62.4" y1="756" x2="62.4" y2="805" stroke="#c6c6c6" stroke-width="1"/>
<line x1="257.3" y1="756" x2="257.3" y2="805" stroke="#c6c6c6" stroke-width="1"/>
<line x1="453.3" y1="756" x2="453.3" y2="805" stroke="#c6c6c6" stroke-width="1"/>
<line x1="647.5" y1="756" x2="647.5" y2="805" stroke="#c6c6c6" stroke-width="1"/>
<line x1="841.3" y1="756" x2="841.3" y2="805" stroke="#c6c6c6" stroke-width="1"/>
<line x1="1038.1" y1="756" x2="1038.1" y2="805" stroke="#c6c6c6" stroke-width="1"/>
<line x1="1232.5" y1="756" x2="1232.5" y2="805" stroke="#c6c6c6" stroke-width="1"/>
<line x1="1426.7" y1="756" x2="1426.7" y2="805" stroke="#c6c6c6" stroke-width="1"/>
<line x1="1" y1="797" x2="1500" y2="797" stroke="#7a7a7a" stroke-width="1.3"/><line x1="1" y1="756.5" x2="1500" y2="756.5" stroke="#cfcfcf" stroke-width="1"/>
<rect x="2.0" y="785.7" width="2.2" height="2.5" fill="#b63e4b"/><rect x="4.2" y="785.7" width="2.2" height="2.5" fill="#1d8893"/><rect x="6.4" y="786.3" width="2.2" height="2.5" fill="#b63e4b"/><rect x="8.6" y="785.6" width="2.2" height="2.5" fill="#b63e4b"/><rect x="10.8" y="785.6" width="2.2" height="2.5" fill="#b63e4b"/><rect x="13.0" y="785.4" width="2.2" height="2.5" fill="#b63e4b"/><rect x="16.0" y="785.8" width="2.2" height="2.5" fill="#b63e4b"/><rect x="18.2" y="785.8" width="2.2" height="2.5" fill="#b63e4b"/><rect x="20.4" y="785.4" width="2.2" height="2.5" fill="#b63e4b"/><rect x="22.6" y="785.3" width="2.2" height="2.5" fill="#b63e4b"/><rect x="25.6" y="785.4" width="2.2" height="2.5" fill="#1d8893"/><rect x="27.8" y="785.2" width="2.2" height="2.5" fill="#b63e4b"/><rect x="30.0" y="785.5" width="2.2" height="2.5" fill="#1d8893"/><rect x="32.2" y="785.4" width="2.2" height="2.5" fill="#1d8893"/><rect x="34.4" y="785.0" width="2.2" height="2.5" fill="#1d8893"/><rect x="36.6" y="785.4" width="2.2" height="2.5" fill="#1d8893"/><rect x="38.8" y="785.1" width="2.2" height="2.5" fill="#1d8893"/><rect x="41.8" y="784.9" width="2.2" height="2.5" fill="#1d8893"/><rect x="44.0" y="784.8" width="2.2" height="2.5" fill="#b63e4b"/><rect x="46.2" y="785.1" width="2.2" height="2.5" fill="#1d8893"/><rect x="48.4" y="785.0" width="2.2" height="2.5" fill="#1d8893"/><rect x="50.6" y="784.7" width="2.2" height="2.5" fill="#1d8893"/><rect x="52.8" y="784.7" width="2.2" height="2.5" fill="#1d8893"/><rect x="55.0" y="785.2" width="2.2" height="2.5" fill="#1d8893"/><rect x="58.0" y="785.0" width="2.2" height="2.5" fill="#1d8893"/><rect x="60.2" y="785.1" width="2.2" height="2.5" fill="#1d8893"/><rect x="62.4" y="784.9" width="2.2" height="2.5" fill="#1d8893"/><rect x="64.6" y="784.8" width="2.2" height="2.5" fill="#1d8893"/><rect x="66.8" y="784.9" width="2.2" height="2.5" fill="#1d8893"/><rect x="69.0" y="784.6" width="2.2" height="2.5" fill="#b63e4b"/><rect x="71.2" y="784.2" width="2.2" height="2.5" fill="#1d8893"/><rect x="74.2" y="784.8" width="2.2" height="2.5" fill="#1d8893"/><rect x="76.4" y="784.4" width="2.2" height="2.5" fill="#b63e4b"/><rect x="78.6" y="784.0" width="2.2" height="2.5" fill="#b63e4b"/><rect x="80.8" y="784.1" width="2.2" height="2.5" fill="#b63e4b"/><rect x="83.0" y="784.0" width="2.2" height="2.5" fill="#b63e4b"/><rect x="85.2" y="784.0" width="2.2" height="2.5" fill="#1d8893"/><rect x="88.2" y="784.2" width="2.2" height="2.5" fill="#b63e4b"/><rect x="90.4" y="784.1" width="2.2" height="2.5" fill="#1d8893"/><rect x="92.6" y="783.8" width="2.2" height="2.5" fill="#1d8893"/><rect x="94.8" y="784.1" width="2.2" height="2.5" fill="#1d8893"/><rect x="97.0" y="784.4" width="2.2" height="2.5" fill="#b63e4b"/><rect x="100.0" y="783.7" width="2.2" height="2.5" fill="#b63e4b"/><rect x="102.2" y="783.7" width="2.2" height="2.5" fill="#b63e4b"/><rect x="104.4" y="783.9" width="2.2" height="2.5" fill="#b63e4b"/><rect x="106.6" y="783.4" width="2.2" height="2.5" fill="#b63e4b"/><rect x="108.8" y="783.7" width="2.2" height="2.5" fill="#b63e4b"/><rect x="111.0" y="784.1" width="2.2" height="2.5" fill="#b63e4b"/><rect x="113.2" y="783.7" width="2.2" height="2.5" fill="#b63e4b"/><rect x="116.2" y="784.0" width="2.2" height="2.5" fill="#b63e4b"/><rect x="118.4" y="783.7" width="2.2" height="2.5" fill="#1d8893"/><rect x="120.6" y="783.5" width="2.2" height="2.5" fill="#1d8893"/><rect x="122.8" y="783.5" width="2.2" height="2.5" fill="#1d8893"/><rect x="125.8" y="783.2" width="2.2" height="2.5" fill="#1d8893"/><rect x="128.0" y="783.1" width="2.2" height="2.5" fill="#1d8893"/><rect x="130.2" y="783.1" width="2.2" height="2.5" fill="#1d8893"/><rect x="132.4" y="783.2" width="2.2" height="2.5" fill="#1d8893"/><rect x="134.6" y="783.6" width="2.2" height="2.5" fill="#1d8893"/><rect x="137.6" y="783.1" width="2.2" height="2.5" fill="#1d8893"/><rect x="139.8" y="782.9" width="2.2" height="2.5" fill="#1d8893"/><rect x="142.0" y="783.6" width="2.2" height="2.5" fill="#b63e4b"/><rect x="144.2" y="783.1" width="2.2" height="2.5" fill="#1d8893"/><rect x="146.4" y="782.8" width="2.2" height="2.5" fill="#1d8893"/><rect x="148.6" y="782.9" width="2.2" height="2.5" fill="#1d8893"/><rect x="150.8" y="782.7" width="2.2" height="2.5" fill="#b63e4b"/><rect x="153.8" y="782.9" width="2.2" height="2.5" fill="#b63e4b"/><rect x="156.0" y="783.3" width="2.2" height="2.5" fill="#1d8893"/><rect x="158.2" y="782.7" width="2.2" height="2.5" fill="#b63e4b"/><rect x="160.4" y="782.5" width="2.2" height="2.5" fill="#1d8893"/><rect x="163.4" y="782.6" width="2.2" height="2.5" fill="#b63e4b"/><rect x="165.6" y="782.7" width="2.2" height="2.5" fill="#1d8893"/><rect x="167.8" y="782.8" width="2.2" height="2.5" fill="#1d8893"/><rect x="170.0" y="782.8" width="2.2" height="2.5" fill="#1d8893"/><rect x="172.2" y="782.3" width="2.2" height="2.5" fill="#b63e4b"/><rect x="174.4" y="782.4" width="2.2" height="2.5" fill="#1d8893"/><rect x="177.4" y="782.6" width="2.2" height="2.5" fill="#1d8893"/><rect x="179.6" y="782.6" width="2.2" height="2.5" fill="#b63e4b"/><rect x="181.8" y="782.0" width="2.2" height="2.5" fill="#1d8893"/><rect x="184.0" y="782.1" width="2.2" height="2.5" fill="#1d8893"/><rect x="186.2" y="782.3" width="2.2" height="2.5" fill="#b63e4b"/><rect x="189.2" y="781.8" width="2.2" height="2.5" fill="#b63e4b"/><rect x="191.4" y="781.8" width="2.2" height="2.5" fill="#b63e4b"/><rect x="193.6" y="782.0" width="2.2" height="2.5" fill="#b63e4b"/><rect x="195.8" y="782.2" width="2.2" height="2.5" fill="#1d8893"/><rect x="198.0" y="782.0" width="2.2" height="2.5" fill="#b63e4b"/><rect x="200.2" y="781.4" width="2.2" height="2.5" fill="#1d8893"/><rect x="203.2" y="781.9" width="2.2" height="2.5" fill="#1d8893"/><rect x="205.4" y="781.4" width="2.2" height="2.5" fill="#b63e4b"/><rect x="207.6" y="781.4" width="2.2" height="2.5" fill="#1d8893"/><rect x="209.8" y="781.9" width="2.2" height="2.5" fill="#1d8893"/><rect x="212.8" y="781.1" width="2.2" height="2.5" fill="#b63e4b"/><rect x="215.0" y="781.8" width="2.2" height="2.5" fill="#1d8893"/><rect x="217.2" y="781.4" width="2.2" height="2.5" fill="#1d8893"/><rect x="219.4" y="781.4" width="2.2" height="2.5" fill="#1d8893"/><rect x="221.6" y="781.3" width="2.2" height="2.5" fill="#1d8893"/><rect x="223.8" y="781.5" width="2.2" height="2.5" fill="#1d8893"/><rect x="226.0" y="781.1" width="2.2" height="2.5" fill="#1d8893"/><rect x="229.0" y="781.1" width="2.2" height="2.5" fill="#b63e4b"/><rect x="231.2" y="781.3" width="2.2" height="2.5" fill="#1d8893"/><rect x="233.4" y="781.2" width="2.2" height="2.5" fill="#1d8893"/><rect x="235.6" y="780.6" width="2.2" height="2.5" fill="#b63e4b"/><rect x="238.6" y="781.0" width="2.2" height="2.5" fill="#1d8893"/><rect x="240.8" y="780.7" width="2.2" height="2.5" fill="#1d8893"/><rect x="243.0" y="780.3" width="2.2" height="2.5" fill="#b63e4b"/><rect x="245.2" y="780.9" width="2.2" height="2.5" fill="#b63e4b"/><rect x="247.4" y="780.8" width="2.2" height="2.5" fill="#1d8893"/><rect x="249.6" y="780.7" width="2.2" height="2.5" fill="#1d8893"/><rect x="252.6" y="780.0" width="2.2" height="2.5" fill="#1d8893"/><rect x="254.8" y="780.1" width="2.2" height="2.5" fill="#1d8893"/><rect x="257.0" y="780.5" width="2.2" height="2.5" fill="#1d8893"/><rect x="259.2" y="779.9" width="2.2" height="2.5" fill="#1d8893"/><rect x="261.4" y="779.6" width="2.2" height="2.5" fill="#b63e4b"/><rect x="264.4" y="779.2" width="2.2" height="2.5" fill="#b63e4b"/><rect x="266.6" y="779.1" width="2.2" height="2.5" fill="#1d8893"/><rect x="268.8" y="778.3" width="2.2" height="2.5" fill="#b63e4b"/><rect x="271.0" y="777.9" width="2.2" height="2.5" fill="#b63e4b"/><rect x="273.2" y="777.9" width="2.2" height="2.5" fill="#b63e4b"/><rect x="275.4" y="778.2" width="2.2" height="2.5" fill="#1d8893"/><rect x="278.4" y="779.0" width="2.2" height="2.5" fill="#b63e4b"/><rect x="280.6" y="779.3" width="2.2" height="2.5" fill="#b63e4b"/><rect x="282.8" y="779.7" width="2.2" height="2.5" fill="#b63e4b"/><rect x="285.0" y="780.2" width="2.2" height="2.5" fill="#1d8893"/><rect x="287.2" y="780.7" width="2.2" height="2.5" fill="#1d8893"/><rect x="289.4" y="780.7" width="2.2" height="2.5" fill="#b63e4b"/><rect x="292.4" y="780.4" width="2.2" height="2.5" fill="#b63e4b"/><rect x="294.6" y="780.3" width="2.2" height="2.5" fill="#b63e4b"/><rect x="296.8" y="780.2" width="2.2" height="2.5" fill="#b63e4b"/><rect x="299.0" y="780.7" width="2.2" height="2.5" fill="#b63e4b"/><rect x="301.2" y="780.2" width="2.2" height="2.5" fill="#1d8893"/><rect x="304.2" y="780.8" width="2.2" height="2.5" fill="#b63e4b"/><rect x="306.4" y="780.7" width="2.2" height="2.5" fill="#1d8893"/><rect x="308.6" y="780.3" width="2.2" height="2.5" fill="#1d8893"/><rect x="310.8" y="780.5" width="2.2" height="2.5" fill="#b63e4b"/><rect x="313.0" y="780.1" width="2.2" height="2.5" fill="#1d8893"/><rect x="315.2" y="780.0" width="2.2" height="2.5" fill="#1d8893"/><rect x="318.2" y="779.9" width="2.2" height="2.5" fill="#1d8893"/><rect x="320.4" y="779.9" width="2.2" height="2.5" fill="#1d8893"/><rect x="322.6" y="779.8" width="2.2" height="2.5" fill="#b63e4b"/><rect x="324.8" y="779.7" width="2.2" height="2.5" fill="#1d8893"/><rect x="327.0" y="779.5" width="2.2" height="2.5" fill="#b63e4b"/><rect x="330.0" y="779.5" width="2.2" height="2.5" fill="#b63e4b"/><rect x="332.2" y="779.9" width="2.2" height="2.5" fill="#b63e4b"/><rect x="334.4" y="779.3" width="2.2" height="2.5" fill="#b63e4b"/><rect x="336.6" y="779.9" width="2.2" height="2.5" fill="#b63e4b"/><rect x="338.8" y="779.3" width="2.2" height="2.5" fill="#1d8893"/><rect x="341.8" y="779.4" width="2.2" height="2.5" fill="#1d8893"/><rect x="344.0" y="779.2" width="2.2" height="2.5" fill="#1d8893"/><rect x="346.2" y="779.1" width="2.2" height="2.5" fill="#b63e4b"/><rect x="348.4" y="779.2" width="2.2" height="2.5" fill="#b63e4b"/><rect x="350.6" y="779.0" width="2.2" height="2.5" fill="#1d8893"/><rect x="353.6" y="778.9" width="2.2" height="2.5" fill="#b63e4b"/><rect x="355.8" y="779.2" width="2.2" height="2.5" fill="#b63e4b"/><rect x="358.0" y="779.3" width="2.2" height="2.5" fill="#1d8893"/><rect x="360.2" y="779.0" width="2.2" height="2.5" fill="#b63e4b"/><rect x="362.4" y="779.2" width="2.2" height="2.5" fill="#1d8893"/><rect x="364.6" y="778.8" width="2.2" height="2.5" fill="#1d8893"/><rect x="367.6" y="779.4" width="2.2" height="2.5" fill="#1d8893"/><rect x="369.8" y="779.1" width="2.2" height="2.5" fill="#1d8893"/><rect x="372.0" y="779.0" width="2.2" height="2.5" fill="#1d8893"/><rect x="374.2" y="778.8" width="2.2" height="2.5" fill="#1d8893"/><rect x="376.4" y="779.4" width="2.2" height="2.5" fill="#b63e4b"/><rect x="379.4" y="779.0" width="2.2" height="2.5" fill="#b63e4b"/><rect x="381.6" y="778.9" width="2.2" height="2.5" fill="#1d8893"/><rect x="383.8" y="778.6" width="2.2" height="2.5" fill="#b63e4b"/><rect x="386.0" y="778.8" width="2.2" height="2.5" fill="#b63e4b"/><rect x="389.0" y="779.2" width="2.2" height="2.5" fill="#b63e4b"/><rect x="391.2" y="778.5" width="2.2" height="2.5" fill="#1d8893"/><rect x="393.4" y="778.5" width="2.2" height="2.5" fill="#1d8893"/><rect x="395.6" y="778.9" width="2.2" height="2.5" fill="#b63e4b"/><rect x="397.8" y="779.1" width="2.2" height="2.5" fill="#1d8893"/><rect x="400.0" y="778.9" width="2.2" height="2.5" fill="#b63e4b"/><rect x="402.2" y="778.7" width="2.2" height="2.5" fill="#1d8893"/><rect x="405.2" y="778.6" width="2.2" height="2.5" fill="#1d8893"/><rect x="407.4" y="778.4" width="2.2" height="2.5" fill="#1d8893"/><rect x="409.6" y="778.4" width="2.2" height="2.5" fill="#b63e4b"/><rect x="411.8" y="777.9" width="2.2" height="2.5" fill="#1d8893"/><rect x="414.0" y="778.0" width="2.2" height="2.5" fill="#1d8893"/><rect x="416.2" y="778.1" width="2.2" height="2.5" fill="#1d8893"/><rect x="419.2" y="777.9" width="2.2" height="2.5" fill="#b63e4b"/><rect x="421.4" y="778.1" width="2.2" height="2.5" fill="#1d8893"/><rect x="423.6" y="778.1" width="2.2" height="2.5" fill="#b63e4b"/><rect x="425.8" y="778.7" width="2.2" height="2.5" fill="#b63e4b"/><rect x="428.0" y="778.8" width="2.2" height="2.5" fill="#b63e4b"/><rect x="430.2" y="778.9" width="2.2" height="2.5" fill="#b63e4b"/><rect x="433.2" y="779.7" width="2.2" height="2.5" fill="#b63e4b"/><rect x="435.4" y="779.7" width="2.2" height="2.5" fill="#b63e4b"/><rect x="437.6" y="779.8" width="2.2" height="2.5" fill="#b63e4b"/><rect x="439.8" y="780.7" width="2.2" height="2.5" fill="#1d8893"/><rect x="442.0" y="781.0" width="2.2" height="2.5" fill="#b63e4b"/><rect x="444.2" y="781.0" width="2.2" height="2.5" fill="#1d8893"/><rect x="447.2" y="781.1" width="2.2" height="2.5" fill="#b63e4b"/><rect x="449.4" y="780.9" width="2.2" height="2.5" fill="#b63e4b"/><rect x="451.6" y="781.2" width="2.2" height="2.5" fill="#1d8893"/><rect x="453.8" y="780.9" width="2.2" height="2.5" fill="#b63e4b"/><rect x="456.0" y="780.9" width="2.2" height="2.5" fill="#1d8893"/><rect x="458.2" y="781.0" width="2.2" height="2.5" fill="#1d8893"/><rect x="461.2" y="781.0" width="2.2" height="2.5" fill="#b63e4b"/><rect x="463.4" y="780.8" width="2.2" height="2.5" fill="#b63e4b"/><rect x="465.6" y="780.1" width="2.2" height="2.5" fill="#b63e4b"/><rect x="467.8" y="780.3" width="2.2" height="2.5" fill="#b63e4b"/><rect x="470.8" y="779.9" width="2.2" height="2.5" fill="#1d8893"/><rect x="473.0" y="780.2" width="2.2" height="2.5" fill="#1d8893"/><rect x="475.2" y="779.9" width="2.2" height="2.5" fill="#1d8893"/><rect x="477.4" y="779.7" width="2.2" height="2.5" fill="#1d8893"/><rect x="480.4" y="780.1" width="2.2" height="2.5" fill="#b63e4b"/><rect x="482.6" y="779.5" width="2.2" height="2.5" fill="#b63e4b"/><rect x="484.8" y="779.9" width="2.2" height="2.5" fill="#b63e4b"/><rect x="487.0" y="779.9" width="2.2" height="2.5" fill="#b63e4b"/><rect x="490.0" y="779.5" width="2.2" height="2.5" fill="#1d8893"/><rect x="492.2" y="779.7" width="2.2" height="2.5" fill="#1d8893"/><rect x="494.4" y="779.5" width="2.2" height="2.5" fill="#1d8893"/><rect x="496.6" y="779.0" width="2.2" height="2.5" fill="#1d8893"/><rect x="498.8" y="779.4" width="2.2" height="2.5" fill="#1d8893"/><rect x="501.0" y="779.2" width="2.2" height="2.5" fill="#1d8893"/><rect x="503.2" y="778.8" width="2.2" height="2.5" fill="#1d8893"/><rect x="506.2" y="778.9" width="2.2" height="2.5" fill="#b63e4b"/><rect x="508.4" y="779.2" width="2.2" height="2.5" fill="#b63e4b"/><rect x="510.6" y="779.0" width="2.2" height="2.5" fill="#b63e4b"/><rect x="512.8" y="779.4" width="2.2" height="2.5" fill="#1d8893"/><rect x="515.0" y="778.8" width="2.2" height="2.5" fill="#b63e4b"/><rect x="517.2" y="778.9" width="2.2" height="2.5" fill="#b63e4b"/><rect x="520.2" y="779.3" width="2.2" height="2.5" fill="#b63e4b"/><rect x="522.4" y="778.7" width="2.2" height="2.5" fill="#1d8893"/><rect x="524.6" y="779.2" width="2.2" height="2.5" fill="#1d8893"/><rect x="526.8" y="778.9" width="2.2" height="2.5" fill="#1d8893"/><rect x="529.0" y="778.9" width="2.2" height="2.5" fill="#1d8893"/><rect x="531.2" y="778.5" width="2.2" height="2.5" fill="#b63e4b"/><rect x="534.2" y="778.6" width="2.2" height="2.5" fill="#1d8893"/><rect x="536.4" y="778.7" width="2.2" height="2.5" fill="#1d8893"/><rect x="538.6" y="778.3" width="2.2" height="2.5" fill="#b63e4b"/><rect x="540.8" y="778.7" width="2.2" height="2.5" fill="#b63e4b"/><rect x="543.0" y="778.4" width="2.2" height="2.5" fill="#b63e4b"/><rect x="545.2" y="778.5" width="2.2" height="2.5" fill="#b63e4b"/><rect x="548.2" y="778.9" width="2.2" height="2.5" fill="#b63e4b"/><rect x="550.4" y="778.9" width="2.2" height="2.5" fill="#1d8893"/><rect x="552.6" y="778.9" width="2.2" height="2.5" fill="#b63e4b"/><rect x="554.8" y="778.4" width="2.2" height="2.5" fill="#1d8893"/><rect x="557.0" y="778.9" width="2.2" height="2.5" fill="#1d8893"/><rect x="559.2" y="778.4" width="2.2" height="2.5" fill="#1d8893"/><rect x="562.2" y="778.3" width="2.2" height="2.5" fill="#1d8893"/><rect x="564.4" y="778.6" width="2.2" height="2.5" fill="#b63e4b"/><rect x="566.6" y="778.1" width="2.2" height="2.5" fill="#b63e4b"/><rect x="568.8" y="778.3" width="2.2" height="2.5" fill="#1d8893"/><rect x="571.0" y="778.6" width="2.2" height="2.5" fill="#b63e4b"/><rect x="573.2" y="778.3" width="2.2" height="2.5" fill="#1d8893"/><rect x="575.4" y="778.5" width="2.2" height="2.5" fill="#b63e4b"/><rect x="578.4" y="778.3" width="2.2" height="2.5" fill="#1d8893"/><rect x="580.6" y="777.9" width="2.2" height="2.5" fill="#1d8893"/><rect x="582.8" y="778.2" width="2.2" height="2.5" fill="#1d8893"/><rect x="585.0" y="778.3" width="2.2" height="2.5" fill="#1d8893"/><rect x="587.2" y="777.8" width="2.2" height="2.5" fill="#b63e4b"/><rect x="589.4" y="777.9" width="2.2" height="2.5" fill="#1d8893"/><rect x="591.6" y="778.0" width="2.2" height="2.5" fill="#b63e4b"/><rect x="594.6" y="778.2" width="2.2" height="2.5" fill="#b63e4b"/><rect x="596.8" y="777.9" width="2.2" height="2.5" fill="#1d8893"/><rect x="599.0" y="778.2" width="2.2" height="2.5" fill="#1d8893"/><rect x="601.2" y="778.1" width="2.2" height="2.5" fill="#1d8893"/><rect x="603.4" y="777.9" width="2.2" height="2.5" fill="#1d8893"/><rect x="605.6" y="777.9" width="2.2" height="2.5" fill="#b63e4b"/><rect x="608.6" y="777.6" width="2.2" height="2.5" fill="#1d8893"/><rect x="610.8" y="777.4" width="2.2" height="2.5" fill="#b63e4b"/><rect x="613.0" y="777.4" width="2.2" height="2.5" fill="#b63e4b"/><rect x="615.2" y="777.2" width="2.2" height="2.5" fill="#b63e4b"/><rect x="617.4" y="777.4" width="2.2" height="2.5" fill="#b63e4b"/><rect x="619.6" y="777.4" width="2.2" height="2.5" fill="#1d8893"/><rect x="621.8" y="777.1" width="2.2" height="2.5" fill="#b63e4b"/><rect x="624.8" y="776.7" width="2.2" height="2.5" fill="#1d8893"/><rect x="627.0" y="777.3" width="2.2" height="2.5" fill="#1d8893"/><rect x="629.2" y="776.8" width="2.2" height="2.5" fill="#1d8893"/><rect x="631.4" y="777.0" width="2.2" height="2.5" fill="#1d8893"/><rect x="633.6" y="776.5" width="2.2" height="2.5" fill="#1d8893"/><rect x="636.6" y="776.5" width="2.2" height="2.5" fill="#1d8893"/><rect x="638.8" y="776.7" width="2.2" height="2.5" fill="#1d8893"/><rect x="641.0" y="776.0" width="2.2" height="2.5" fill="#b63e4b"/><rect x="643.2" y="776.4" width="2.2" height="2.5" fill="#1d8893"/><rect x="645.4" y="776.5" width="2.2" height="2.5" fill="#b63e4b"/><rect x="648.4" y="776.4" width="2.2" height="2.5" fill="#1d8893"/><rect x="650.6" y="776.2" width="2.2" height="2.5" fill="#b63e4b"/><rect x="652.8" y="775.7" width="2.2" height="2.5" fill="#b63e4b"/><rect x="655.0" y="775.7" width="2.2" height="2.5" fill="#1d8893"/><rect x="657.2" y="776.1" width="2.2" height="2.5" fill="#1d8893"/><rect x="659.4" y="776.1" width="2.2" height="2.5" fill="#b63e4b"/><rect x="661.6" y="776.2" width="2.2" height="2.5" fill="#1d8893"/><rect x="664.6" y="775.6" width="2.2" height="2.5" fill="#b63e4b"/><rect x="666.8" y="776.0" width="2.2" height="2.5" fill="#1d8893"/><rect x="669.0" y="776.1" width="2.2" height="2.5" fill="#1d8893"/><rect x="671.2" y="776.4" width="2.2" height="2.5" fill="#b63e4b"/><rect x="673.4" y="776.9" width="2.2" height="2.5" fill="#1d8893"/><rect x="675.6" y="777.3" width="2.2" height="2.5" fill="#b63e4b"/><rect x="677.8" y="778.7" width="2.2" height="2.5" fill="#1d8893"/><rect x="680.8" y="779.3" width="2.2" height="2.5" fill="#1d8893"/><rect x="683.0" y="779.8" width="2.2" height="2.5" fill="#1d8893"/><rect x="685.2" y="781.0" width="2.2" height="2.5" fill="#1d8893"/><rect x="687.4" y="781.6" width="2.2" height="2.5" fill="#1d8893"/><rect x="689.6" y="781.7" width="2.2" height="2.5" fill="#1d8893"/><rect x="692.6" y="782.1" width="2.2" height="2.5" fill="#1d8893"/><rect x="694.8" y="781.6" width="2.2" height="2.5" fill="#1d8893"/><rect x="697.0" y="781.9" width="2.2" height="2.5" fill="#b63e4b"/><rect x="699.2" y="781.4" width="2.2" height="2.5" fill="#1d8893"/><rect x="701.4" y="781.5" width="2.2" height="2.5" fill="#1d8893"/><rect x="704.4" y="781.4" width="2.2" height="2.5" fill="#1d8893"/><rect x="706.6" y="781.1" width="2.2" height="2.5" fill="#1d8893"/><rect x="708.8" y="781.4" width="2.2" height="2.5" fill="#b63e4b"/><rect x="711.0" y="780.9" width="2.2" height="2.5" fill="#1d8893"/><rect x="713.2" y="780.9" width="2.2" height="2.5" fill="#b63e4b"/><rect x="715.4" y="780.7" width="2.2" height="2.5" fill="#b63e4b"/><rect x="717.6" y="781.1" width="2.2" height="2.5" fill="#1d8893"/><rect x="720.6" y="780.8" width="2.2" height="2.5" fill="#1d8893"/><rect x="722.8" y="780.6" width="2.2" height="2.5" fill="#b63e4b"/><rect x="725.0" y="780.1" width="2.2" height="2.5" fill="#b63e4b"/><rect x="727.2" y="780.7" width="2.2" height="2.5" fill="#1d8893"/><rect x="729.4" y="779.9" width="2.2" height="2.5" fill="#1d8893"/><rect x="731.6" y="780.1" width="2.2" height="2.5" fill="#1d8893"/><rect x="734.6" y="780.2" width="2.2" height="2.5" fill="#1d8893"/><rect x="736.8" y="779.6" width="2.2" height="2.5" fill="#1d8893"/><rect x="739.0" y="779.5" width="2.2" height="2.5" fill="#1d8893"/><rect x="741.2" y="779.8" width="2.2" height="2.5" fill="#1d8893"/><rect x="744.2" y="779.4" width="2.2" height="2.5" fill="#1d8893"/><rect x="746.4" y="779.3" width="2.2" height="2.5" fill="#1d8893"/><rect x="748.6" y="778.9" width="2.2" height="2.5" fill="#1d8893"/><rect x="750.8" y="779.1" width="2.2" height="2.5" fill="#1d8893"/><rect x="753.0" y="778.8" width="2.2" height="2.5" fill="#b63e4b"/><rect x="755.2" y="778.8" width="2.2" height="2.5" fill="#b63e4b"/><rect x="757.4" y="779.1" width="2.2" height="2.5" fill="#1d8893"/><rect x="760.4" y="778.5" width="2.2" height="2.5" fill="#b63e4b"/><rect x="762.6" y="778.3" width="2.2" height="2.5" fill="#1d8893"/><rect x="764.8" y="778.3" width="2.2" height="2.5" fill="#1d8893"/><rect x="767.0" y="777.9" width="2.2" height="2.5" fill="#1d8893"/><rect x="769.2" y="777.6" width="2.2" height="2.5" fill="#1d8893"/><rect x="771.4" y="777.1" width="2.2" height="2.5" fill="#1d8893"/><rect x="773.6" y="777.1" width="2.2" height="2.5" fill="#1d8893"/><rect x="776.6" y="776.7" width="2.2" height="2.5" fill="#b63e4b"/><rect x="778.8" y="775.9" width="2.2" height="2.5" fill="#1d8893"/><rect x="781.0" y="776.0" width="2.2" height="2.5" fill="#b63e4b"/><rect x="783.2" y="776.1" width="2.2" height="2.5" fill="#1d8893"/><rect x="786.2" y="776.0" width="2.2" height="2.5" fill="#b63e4b"/><rect x="788.4" y="776.0" width="2.2" height="2.5" fill="#b63e4b"/><rect x="790.6" y="775.4" width="2.2" height="2.5" fill="#1d8893"/><rect x="792.8" y="775.4" width="2.2" height="2.5" fill="#1d8893"/><rect x="795.0" y="775.6" width="2.2" height="2.5" fill="#1d8893"/><rect x="797.2" y="775.8" width="2.2" height="2.5" fill="#1d8893"/><rect x="800.2" y="775.5" width="2.2" height="2.5" fill="#b63e4b"/><rect x="802.4" y="775.9" width="2.2" height="2.5" fill="#b63e4b"/><rect x="804.6" y="775.6" width="2.2" height="2.5" fill="#b63e4b"/><rect x="806.8" y="775.2" width="2.2" height="2.5" fill="#b63e4b"/><rect x="809.0" y="775.3" width="2.2" height="2.5" fill="#1d8893"/><rect x="811.2" y="775.4" width="2.2" height="2.5" fill="#1d8893"/><rect x="813.4" y="775.2" width="2.2" height="2.5" fill="#b63e4b"/><rect x="816.4" y="774.9" width="2.2" height="2.5" fill="#1d8893"/><rect x="818.6" y="775.1" width="2.2" height="2.5" fill="#1d8893"/><rect x="820.8" y="775.5" width="2.2" height="2.5" fill="#b63e4b"/><rect x="823.0" y="774.9" width="2.2" height="2.5" fill="#b63e4b"/><rect x="825.2" y="774.7" width="2.2" height="2.5" fill="#1d8893"/><rect x="828.2" y="774.7" width="2.2" height="2.5" fill="#1d8893"/><rect x="830.4" y="774.9" width="2.2" height="2.5" fill="#b63e4b"/><rect x="832.6" y="774.7" width="2.2" height="2.5" fill="#1d8893"/><rect x="834.8" y="775.1" width="2.2" height="2.5" fill="#b63e4b"/><rect x="837.0" y="775.1" width="2.2" height="2.5" fill="#1d8893"/><rect x="839.2" y="774.6" width="2.2" height="2.5" fill="#b63e4b"/><rect x="841.4" y="774.5" width="2.2" height="2.5" fill="#b63e4b"/><rect x="844.4" y="774.4" width="2.2" height="2.5" fill="#1d8893"/><rect x="846.6" y="774.8" width="2.2" height="2.5" fill="#1d8893"/><rect x="848.8" y="774.2" width="2.2" height="2.5" fill="#1d8893"/><rect x="851.0" y="774.6" width="2.2" height="2.5" fill="#1d8893"/><rect x="853.2" y="773.9" width="2.2" height="2.5" fill="#1d8893"/><rect x="855.4" y="774.1" width="2.2" height="2.5" fill="#b63e4b"/><rect x="858.4" y="774.1" width="2.2" height="2.5" fill="#1d8893"/><rect x="860.6" y="774.1" width="2.2" height="2.5" fill="#b63e4b"/><rect x="862.8" y="773.5" width="2.2" height="2.5" fill="#1d8893"/><rect x="865.0" y="773.3" width="2.2" height="2.5" fill="#1d8893"/><rect x="868.0" y="773.7" width="2.2" height="2.5" fill="#b63e4b"/><rect x="870.2" y="773.1" width="2.2" height="2.5" fill="#b63e4b"/><rect x="872.4" y="773.5" width="2.2" height="2.5" fill="#1d8893"/><rect x="874.6" y="773.1" width="2.2" height="2.5" fill="#b63e4b"/><rect x="876.8" y="772.7" width="2.2" height="2.5" fill="#b63e4b"/><rect x="879.8" y="773.2" width="2.2" height="2.5" fill="#1d8893"/><rect x="882.0" y="772.9" width="2.2" height="2.5" fill="#1d8893"/><rect x="884.2" y="772.8" width="2.2" height="2.5" fill="#b63e4b"/><rect x="886.4" y="772.4" width="2.2" height="2.5" fill="#b63e4b"/><rect x="888.6" y="772.4" width="2.2" height="2.5" fill="#1d8893"/><rect x="890.8" y="771.8" width="2.2" height="2.5" fill="#1d8893"/><rect x="893.8" y="771.7" width="2.2" height="2.5" fill="#1d8893"/><rect x="896.0" y="772.0" width="2.2" height="2.5" fill="#1d8893"/><rect x="898.2" y="771.5" width="2.2" height="2.5" fill="#1d8893"/><rect x="900.4" y="771.9" width="2.2" height="2.5" fill="#1d8893"/><rect x="902.6" y="771.5" width="2.2" height="2.5" fill="#1d8893"/><rect x="904.8" y="772.0" width="2.2" height="2.5" fill="#1d8893"/><rect x="907.0" y="771.7" width="2.2" height="2.5" fill="#1d8893"/><rect x="910.0" y="771.8" width="2.2" height="2.5" fill="#1d8893"/><rect x="912.2" y="771.7" width="2.2" height="2.5" fill="#b63e4b"/><rect x="914.4" y="771.4" width="2.2" height="2.5" fill="#1d8893"/><rect x="916.6" y="771.4" width="2.2" height="2.5" fill="#b63e4b"/><rect x="918.8" y="771.1" width="2.2" height="2.5" fill="#1d8893"/><rect x="921.0" y="771.5" width="2.2" height="2.5" fill="#1d8893"/><rect x="924.0" y="771.0" width="2.2" height="2.5" fill="#1d8893"/><rect x="926.2" y="771.4" width="2.2" height="2.5" fill="#1d8893"/><rect x="928.4" y="770.9" width="2.2" height="2.5" fill="#b63e4b"/><rect x="930.6" y="771.1" width="2.2" height="2.5" fill="#1d8893"/><rect x="932.8" y="770.9" width="2.2" height="2.5" fill="#1d8893"/><rect x="935.0" y="771.2" width="2.2" height="2.5" fill="#1d8893"/><rect x="938.0" y="771.4" width="2.2" height="2.5" fill="#1d8893"/><rect x="940.2" y="770.8" width="2.2" height="2.5" fill="#b63e4b"/><rect x="942.4" y="771.4" width="2.2" height="2.5" fill="#1d8893"/><rect x="944.6" y="771.0" width="2.2" height="2.5" fill="#b63e4b"/><rect x="947.6" y="770.6" width="2.2" height="2.5" fill="#b63e4b"/><rect x="949.8" y="771.1" width="2.2" height="2.5" fill="#1d8893"/><rect x="952.0" y="771.0" width="2.2" height="2.5" fill="#1d8893"/><rect x="954.2" y="770.9" width="2.2" height="2.5" fill="#1d8893"/><rect x="957.2" y="770.6" width="2.2" height="2.5" fill="#b63e4b"/><rect x="959.4" y="770.8" width="2.2" height="2.5" fill="#b63e4b"/><rect x="961.6" y="770.4" width="2.2" height="2.5" fill="#b63e4b"/><rect x="963.8" y="770.9" width="2.2" height="2.5" fill="#b63e4b"/><rect x="966.0" y="770.4" width="2.2" height="2.5" fill="#1d8893"/><rect x="969.0" y="770.6" width="2.2" height="2.5" fill="#b63e4b"/><rect x="971.2" y="771.0" width="2.2" height="2.5" fill="#b63e4b"/><rect x="973.4" y="770.8" width="2.2" height="2.5" fill="#1d8893"/><rect x="975.6" y="770.5" width="2.2" height="2.5" fill="#b63e4b"/><rect x="978.6" y="770.7" width="2.2" height="2.5" fill="#b63e4b"/><rect x="980.8" y="770.8" width="2.2" height="2.5" fill="#b63e4b"/><rect x="983.0" y="770.5" width="2.2" height="2.5" fill="#b63e4b"/><rect x="985.2" y="770.9" width="2.2" height="2.5" fill="#1d8893"/><rect x="987.4" y="770.4" width="2.2" height="2.5" fill="#b63e4b"/><rect x="989.6" y="770.4" width="2.2" height="2.5" fill="#b63e4b"/><rect x="991.8" y="770.6" width="2.2" height="2.5" fill="#b63e4b"/><rect x="994.8" y="770.8" width="2.2" height="2.5" fill="#b63e4b"/><rect x="997.0" y="770.4" width="2.2" height="2.5" fill="#b63e4b"/><rect x="999.2" y="770.5" width="2.2" height="2.5" fill="#1d8893"/><rect x="1001.4" y="770.3" width="2.2" height="2.5" fill="#1d8893"/><rect x="1004.4" y="770.1" width="2.2" height="2.5" fill="#1d8893"/><rect x="1006.6" y="770.6" width="2.2" height="2.5" fill="#b63e4b"/><rect x="1008.8" y="770.1" width="2.2" height="2.5" fill="#b63e4b"/><rect x="1011.0" y="770.7" width="2.2" height="2.5" fill="#b63e4b"/><rect x="1013.2" y="770.5" width="2.2" height="2.5" fill="#b63e4b"/><rect x="1015.4" y="770.4" width="2.2" height="2.5" fill="#1d8893"/><rect x="1017.6" y="769.9" width="2.2" height="2.5" fill="#1d8893"/><rect x="1020.6" y="769.9" width="2.2" height="2.5" fill="#b63e4b"/><rect x="1022.8" y="770.3" width="2.2" height="2.5" fill="#b63e4b"/><rect x="1025.0" y="769.8" width="2.2" height="2.5" fill="#b63e4b"/><rect x="1027.2" y="769.9" width="2.2" height="2.5" fill="#1d8893"/><rect x="1029.4" y="769.9" width="2.2" height="2.5" fill="#b63e4b"/><rect x="1031.6" y="769.7" width="2.2" height="2.5" fill="#b63e4b"/><rect x="1034.6" y="770.0" width="2.2" height="2.5" fill="#1d8893"/><rect x="1036.8" y="770.0" width="2.2" height="2.5" fill="#1d8893"/><rect x="1039.0" y="769.8" width="2.2" height="2.5" fill="#1d8893"/><rect x="1041.2" y="769.6" width="2.2" height="2.5" fill="#1d8893"/><rect x="1043.4" y="769.6" width="2.2" height="2.5" fill="#1d8893"/><rect x="1046.4" y="770.2" width="2.2" height="2.5" fill="#b63e4b"/><rect x="1048.6" y="770.5" width="2.2" height="2.5" fill="#b63e4b"/><rect x="1050.8" y="770.1" width="2.2" height="2.5" fill="#b63e4b"/><rect x="1053.0" y="770.1" width="2.2" height="2.5" fill="#1d8893"/><rect x="1055.2" y="770.5" width="2.2" height="2.5" fill="#1d8893"/><rect x="1057.4" y="770.8" width="2.2" height="2.5" fill="#b63e4b"/><rect x="1059.6" y="770.5" width="2.2" height="2.5" fill="#b63e4b"/><rect x="1062.6" y="770.8" width="2.2" height="2.5" fill="#1d8893"/><rect x="1064.8" y="771.4" width="2.2" height="2.5" fill="#b63e4b"/><rect x="1067.0" y="771.6" width="2.2" height="2.5" fill="#b63e4b"/><rect x="1069.2" y="771.6" width="2.2" height="2.5" fill="#b63e4b"/><rect x="1072.2" y="771.5" width="2.2" height="2.5" fill="#1d8893"/><rect x="1074.4" y="772.1" width="2.2" height="2.5" fill="#1d8893"/><rect x="1076.6" y="771.7" width="2.2" height="2.5" fill="#1d8893"/><rect x="1078.8" y="771.7" width="2.2" height="2.5" fill="#1d8893"/><rect x="1081.0" y="772.1" width="2.2" height="2.5" fill="#1d8893"/><rect x="1084.0" y="772.4" width="2.2" height="2.5" fill="#1d8893"/><rect x="1086.2" y="772.3" width="2.2" height="2.5" fill="#1d8893"/><rect x="1088.4" y="773.0" width="2.2" height="2.5" fill="#1d8893"/><rect x="1090.6" y="772.5" width="2.2" height="2.5" fill="#1d8893"/><rect x="1093.6" y="772.8" width="2.2" height="2.5" fill="#b63e4b"/><rect x="1095.8" y="773.4" width="2.2" height="2.5" fill="#b63e4b"/><rect x="1098.0" y="773.7" width="2.2" height="2.5" fill="#b63e4b"/><rect x="1100.2" y="773.2" width="2.2" height="2.5" fill="#1d8893"/><rect x="1102.4" y="773.9" width="2.2" height="2.5" fill="#1d8893"/><rect x="1105.4" y="773.6" width="2.2" height="2.5" fill="#b63e4b"/><rect x="1107.6" y="773.2" width="2.2" height="2.5" fill="#b63e4b"/><rect x="1109.8" y="773.2" width="2.2" height="2.5" fill="#b63e4b"/><rect x="1112.0" y="773.4" width="2.2" height="2.5" fill="#b63e4b"/><rect x="1114.2" y="773.3" width="2.2" height="2.5" fill="#1d8893"/><rect x="1116.4" y="773.8" width="2.2" height="2.5" fill="#b63e4b"/><rect x="1118.6" y="773.6" width="2.2" height="2.5" fill="#b63e4b"/><rect x="1121.6" y="773.6" width="2.2" height="2.5" fill="#b63e4b"/><rect x="1123.8" y="773.4" width="2.2" height="2.5" fill="#b63e4b"/><rect x="1126.0" y="774.0" width="2.2" height="2.5" fill="#1d8893"/><rect x="1128.2" y="773.4" width="2.2" height="2.5" fill="#1d8893"/><rect x="1130.4" y="774.0" width="2.2" height="2.5" fill="#1d8893"/><rect x="1132.6" y="774.0" width="2.2" height="2.5" fill="#b63e4b"/><rect x="1134.8" y="773.6" width="2.2" height="2.5" fill="#b63e4b"/><rect x="1137.8" y="773.5" width="2.2" height="2.5" fill="#1d8893"/><rect x="1140.0" y="774.2" width="2.2" height="2.5" fill="#b63e4b"/><rect x="1142.2" y="773.7" width="2.2" height="2.5" fill="#b63e4b"/><rect x="1144.4" y="774.0" width="2.2" height="2.5" fill="#1d8893"/><rect x="1147.4" y="774.3" width="2.2" height="2.5" fill="#1d8893"/><rect x="1149.6" y="774.2" width="2.2" height="2.5" fill="#b63e4b"/><rect x="1151.8" y="773.6" width="2.2" height="2.5" fill="#1d8893"/><rect x="1154.0" y="773.7" width="2.2" height="2.5" fill="#b63e4b"/><rect x="1156.2" y="774.2" width="2.2" height="2.5" fill="#1d8893"/><rect x="1158.4" y="773.7" width="2.2" height="2.5" fill="#b63e4b"/><rect x="1160.6" y="773.7" width="2.2" height="2.5" fill="#1d8893"/><rect x="1163.6" y="774.3" width="2.2" height="2.5" fill="#1d8893"/><rect x="1165.8" y="774.2" width="2.2" height="2.5" fill="#1d8893"/><rect x="1168.0" y="774.4" width="2.2" height="2.5" fill="#1d8893"/><rect x="1170.2" y="774.4" width="2.2" height="2.5" fill="#1d8893"/><rect x="1172.4" y="774.9" width="2.2" height="2.5" fill="#1d8893"/><rect x="1174.6" y="775.2" width="2.2" height="2.5" fill="#1d8893"/><rect x="1176.8" y="775.4" width="2.2" height="2.5" fill="#1d8893"/><rect x="1179.8" y="776.3" width="2.2" height="2.5" fill="#1d8893"/><rect x="1182.0" y="775.7" width="2.2" height="2.5" fill="#1d8893"/><rect x="1184.2" y="776.0" width="2.2" height="2.5" fill="#1d8893"/><rect x="1186.4" y="776.1" width="2.2" height="2.5" fill="#1d8893"/><rect x="1188.6" y="775.1" width="2.2" height="2.5" fill="#b63e4b"/><rect x="1191.6" y="775.4" width="2.2" height="2.5" fill="#b63e4b"/><rect x="1193.8" y="774.7" width="2.2" height="2.5" fill="#1d8893"/><rect x="1196.0" y="774.8" width="2.2" height="2.5" fill="#b63e4b"/><rect x="1198.2" y="774.9" width="2.2" height="2.5" fill="#1d8893"/><rect x="1200.4" y="774.1" width="2.2" height="2.5" fill="#1d8893"/><rect x="1203.4" y="773.9" width="2.2" height="2.5" fill="#1d8893"/><rect x="1205.6" y="774.3" width="2.2" height="2.5" fill="#1d8893"/><rect x="1207.8" y="774.0" width="2.2" height="2.5" fill="#b63e4b"/><rect x="1210.0" y="773.8" width="2.2" height="2.5" fill="#b63e4b"/><rect x="1212.2" y="773.2" width="2.2" height="2.5" fill="#1d8893"/><rect x="1214.4" y="773.5" width="2.2" height="2.5" fill="#1d8893"/><rect x="1216.6" y="773.0" width="2.2" height="2.5" fill="#1d8893"/><rect x="1219.6" y="773.2" width="2.2" height="2.5" fill="#1d8893"/><rect x="1221.8" y="772.9" width="2.2" height="2.5" fill="#1d8893"/><rect x="1224.0" y="772.7" width="2.2" height="2.5" fill="#b63e4b"/><rect x="1226.2" y="772.3" width="2.2" height="2.5" fill="#1d8893"/><rect x="1228.4" y="772.3" width="2.2" height="2.5" fill="#1d8893"/><rect x="1230.6" y="771.6" width="2.2" height="2.5" fill="#b63e4b"/><rect x="1232.8" y="771.6" width="2.2" height="2.5" fill="#1d8893"/><rect x="1235.8" y="771.7" width="2.2" height="2.5" fill="#b63e4b"/><rect x="1238.0" y="771.6" width="2.2" height="2.5" fill="#1d8893"/><rect x="1240.2" y="771.6" width="2.2" height="2.5" fill="#1d8893"/><rect x="1242.4" y="771.6" width="2.2" height="2.5" fill="#b63e4b"/><rect x="1244.6" y="772.3" width="2.2" height="2.5" fill="#1d8893"/><rect x="1246.8" y="771.9" width="2.2" height="2.5" fill="#b63e4b"/><rect x="1249.0" y="772.1" width="2.2" height="2.5" fill="#b63e4b"/><rect x="1252.0" y="772.2" width="2.2" height="2.5" fill="#b63e4b"/><rect x="1254.2" y="771.9" width="2.2" height="2.5" fill="#b63e4b"/><rect x="1256.4" y="772.1" width="2.2" height="2.5" fill="#b63e4b"/><rect x="1258.6" y="771.6" width="2.2" height="2.5" fill="#1d8893"/><rect x="1260.8" y="772.1" width="2.2" height="2.5" fill="#b63e4b"/><rect x="1263.8" y="771.8" width="2.2" height="2.5" fill="#b63e4b"/><rect x="1266.0" y="771.6" width="2.2" height="2.5" fill="#1d8893"/><rect x="1268.2" y="772.1" width="2.2" height="2.5" fill="#1d8893"/><rect x="1270.4" y="771.9" width="2.2" height="2.5" fill="#b63e4b"/><rect x="1273.4" y="771.5" width="2.2" height="2.5" fill="#b63e4b"/><rect x="1275.6" y="772.0" width="2.2" height="2.5" fill="#b63e4b"/><rect x="1277.8" y="771.6" width="2.2" height="2.5" fill="#b63e4b"/><rect x="1280.0" y="771.5" width="2.2" height="2.5" fill="#1d8893"/><rect x="1282.2" y="771.7" width="2.2" height="2.5" fill="#b63e4b"/><rect x="1284.4" y="771.9" width="2.2" height="2.5" fill="#1d8893"/><rect x="1286.6" y="771.5" width="2.2" height="2.5" fill="#b63e4b"/><rect x="1289.6" y="771.6" width="2.2" height="2.5" fill="#b63e4b"/><rect x="1291.8" y="771.5" width="2.2" height="2.5" fill="#1d8893"/><rect x="1294.0" y="771.8" width="2.2" height="2.5" fill="#1d8893"/><rect x="1296.2" y="771.4" width="2.2" height="2.5" fill="#1d8893"/><rect x="1298.4" y="771.7" width="2.2" height="2.5" fill="#1d8893"/><rect x="1300.6" y="771.6" width="2.2" height="2.5" fill="#1d8893"/><rect x="1303.6" y="771.9" width="2.2" height="2.5" fill="#b63e4b"/><rect x="1305.8" y="771.3" width="2.2" height="2.5" fill="#1d8893"/><rect x="1308.0" y="771.4" width="2.2" height="2.5" fill="#1d8893"/><rect x="1310.2" y="771.3" width="2.2" height="2.5" fill="#1d8893"/><rect x="1312.4" y="771.3" width="2.2" height="2.5" fill="#1d8893"/><rect x="1314.6" y="771.7" width="2.2" height="2.5" fill="#b63e4b"/><rect x="1317.6" y="771.3" width="2.2" height="2.5" fill="#1d8893"/><rect x="1319.8" y="771.2" width="2.2" height="2.5" fill="#1d8893"/><rect x="1322.0" y="771.3" width="2.2" height="2.5" fill="#1d8893"/><rect x="1324.2" y="771.2" width="2.2" height="2.5" fill="#1d8893"/><rect x="1327.2" y="771.4" width="2.2" height="2.5" fill="#b63e4b"/><rect x="1329.4" y="771.7" width="2.2" height="2.5" fill="#1d8893"/><rect x="1331.6" y="771.2" width="2.2" height="2.5" fill="#1d8893"/><rect x="1333.8" y="771.2" width="2.2" height="2.5" fill="#b63e4b"/><rect x="1336.8" y="771.2" width="2.2" height="2.5" fill="#1d8893"/><rect x="1339.0" y="771.5" width="2.2" height="2.5" fill="#b63e4b"/><rect x="1341.2" y="771.2" width="2.2" height="2.5" fill="#1d8893"/><rect x="1343.4" y="771.0" width="2.2" height="2.5" fill="#b63e4b"/><rect x="1346.4" y="771.3" width="2.2" height="2.5" fill="#b63e4b"/><rect x="1348.6" y="771.0" width="2.2" height="2.5" fill="#b63e4b"/><rect x="1350.8" y="770.6" width="2.2" height="2.5" fill="#b63e4b"/><rect x="1353.0" y="770.7" width="2.2" height="2.5" fill="#b63e4b"/><rect x="1355.2" y="770.9" width="2.2" height="2.5" fill="#b63e4b"/><rect x="1358.2" y="770.8" width="2.2" height="2.5" fill="#1d8893"/><rect x="1360.4" y="770.8" width="2.2" height="2.5" fill="#1d8893"/><rect x="1362.6" y="770.1" width="2.2" height="2.5" fill="#1d8893"/><rect x="1364.8" y="770.4" width="2.2" height="2.5" fill="#b63e4b"/><rect x="1367.0" y="770.6" width="2.2" height="2.5" fill="#1d8893"/><rect x="1369.2" y="770.1" width="2.2" height="2.5" fill="#b63e4b"/><rect x="1371.4" y="770.5" width="2.2" height="2.5" fill="#1d8893"/><rect x="1374.4" y="769.8" width="2.2" height="2.5" fill="#1d8893"/><rect x="1376.6" y="770.4" width="2.2" height="2.5" fill="#b63e4b"/><rect x="1378.8" y="769.7" width="2.2" height="2.5" fill="#1d8893"/><rect x="1381.0" y="770.0" width="2.2" height="2.5" fill="#1d8893"/><rect x="1384.0" y="770.1" width="2.2" height="2.5" fill="#1d8893"/><rect x="1386.2" y="769.7" width="2.2" height="2.5" fill="#1d8893"/><rect x="1388.4" y="769.5" width="2.2" height="2.5" fill="#b63e4b"/><rect x="1390.6" y="769.5" width="2.2" height="2.5" fill="#1d8893"/><rect x="1392.8" y="769.3" width="2.2" height="2.5" fill="#b63e4b"/><rect x="1395.0" y="769.4" width="2.2" height="2.5" fill="#b63e4b"/><rect x="1397.2" y="769.3" width="2.2" height="2.5" fill="#1d8893"/><rect x="1400.2" y="769.7" width="2.2" height="2.5" fill="#1d8893"/><rect x="1402.4" y="769.4" width="2.2" height="2.5" fill="#1d8893"/><rect x="1404.6" y="768.9" width="2.2" height="2.5" fill="#1d8893"/><rect x="1406.8" y="769.1" width="2.2" height="2.5" fill="#1d8893"/><rect x="1409.0" y="769.5" width="2.2" height="2.5" fill="#b63e4b"/><rect x="1411.2" y="769.4" width="2.2" height="2.5" fill="#b63e4b"/><rect x="1413.4" y="768.7" width="2.2" height="2.5" fill="#1d8893"/><rect x="1416.4" y="768.8" width="2.2" height="2.5" fill="#b63e4b"/><rect x="1418.6" y="768.6" width="2.2" height="2.5" fill="#b63e4b"/><rect x="1420.8" y="768.6" width="2.2" height="2.5" fill="#1d8893"/><rect x="1423.0" y="768.9" width="2.2" height="2.5" fill="#b63e4b"/><rect x="1426.0" y="768.6" width="2.2" height="2.5" fill="#1d8893"/><rect x="1428.2" y="768.8" width="2.2" height="2.5" fill="#1d8893"/><rect x="1430.4" y="768.8" width="2.2" height="2.5" fill="#1d8893"/><rect x="1432.6" y="768.3" width="2.2" height="2.5" fill="#1d8893"/><rect x="1434.8" y="768.3" width="2.2" height="2.5" fill="#1d8893"/><rect x="1437.0" y="767.9" width="2.2" height="2.5" fill="#1d8893"/><rect x="1439.2" y="768.1" width="2.2" height="2.5" fill="#b63e4b"/><rect x="1442.2" y="768.2" width="2.2" height="2.5" fill="#b63e4b"/><rect x="1444.4" y="767.8" width="2.2" height="2.5" fill="#b63e4b"/><rect x="1446.6" y="767.8" width="2.2" height="2.5" fill="#1d8893"/><rect x="1448.8" y="767.9" width="2.2" height="2.5" fill="#b63e4b"/><rect x="1451.0" y="768.0" width="2.2" height="2.5" fill="#b63e4b"/><rect x="1454.0" y="768.1" width="2.2" height="2.5" fill="#b63e4b"/><rect x="1456.2" y="767.4" width="2.2" height="2.5" fill="#b63e4b"/><rect x="1458.4" y="768.1" width="2.2" height="2.5" fill="#b63e4b"/><rect x="1460.6" y="767.5" width="2.2" height="2.5" fill="#b63e4b"/><rect x="1462.8" y="767.4" width="2.2" height="2.5" fill="#b63e4b"/><rect x="1465.0" y="767.8" width="2.2" height="2.5" fill="#b63e4b"/><rect x="1468.0" y="767.4" width="2.2" height="2.5" fill="#b63e4b"/><rect x="1470.2" y="767.5" width="2.2" height="2.5" fill="#b63e4b"/><rect x="1472.4" y="767.9" width="2.2" height="2.5" fill="#b63e4b"/><rect x="1474.6" y="767.9" width="2.2" height="2.5" fill="#b63e4b"/><rect x="1476.8" y="767.7" width="2.2" height="2.5" fill="#b63e4b"/><rect x="1479.0" y="767.7" width="2.2" height="2.5" fill="#b63e4b"/><rect x="1482.0" y="767.7" width="2.2" height="2.5" fill="#b63e4b"/><rect x="1484.2" y="767.9" width="2.2" height="2.5" fill="#b63e4b"/><rect x="1486.4" y="767.7" width="2.2" height="2.5" fill="#1d8893"/><rect x="1488.6" y="767.9" width="2.2" height="2.5" fill="#1d8893"/><rect x="1490.8" y="767.9" width="2.2" height="2.5" fill="#1d8893"/><rect x="1493.8" y="767.7" width="2.2" height="2.5" fill="#b63e4b"/><rect x="1496.0" y="768.1" width="2.2" height="2.5" fill="#b63e4b"/>
<rect x="1443.2" y="756" width="2.5" height="41" fill="#9a9a9a"/>
<rect x="1442.2" y="765.5" width="4.5" height="23" rx="2" fill="#9a9a9a"/>
<rect x="1487.8" y="756" width="2.5" height="41" fill="#9a9a9a"/>
<rect x="1486.8" y="765.5" width="4.5" height="23" rx="2" fill="#9a9a9a"/>
<rect x="2.7" y="758.8" width="14" height="14" fill="#fff"/>
<path d="M6.2 762.2L13.4 769.4M13.4 762.2L6.2 769.4" stroke="#8a8a8a" stroke-width="2.4"/>
<line x1="62.4" y1="797" x2="62.4" y2="802" stroke="#7a7a7a" stroke-width="1"/>
<text x="62.4" y="813" font-size="12.5" fill="#444" text-anchor="middle">2017</text>
<line x1="257.3" y1="797" x2="257.3" y2="802" stroke="#7a7a7a" stroke-width="1"/>
<text x="257.3" y="813" font-size="12.5" fill="#444" text-anchor="middle">2018</text>
<line x1="453.3" y1="797" x2="453.3" y2="802" stroke="#7a7a7a" stroke-width="1"/>
<text x="453.3" y="813" font-size="12.5" fill="#444" text-anchor="middle">2019</text>
<line x1="647.5" y1="797" x2="647.5" y2="802" stroke="#7a7a7a" stroke-width="1"/>
<text x="647.5" y="813" font-size="12.5" fill="#444" text-anchor="middle">2020</text>
<line x1="841.3" y1="797" x2="841.3" y2="802" stroke="#7a7a7a" stroke-width="1"/>
<text x="841.3" y="813" font-size="12.5" fill="#444" text-anchor="middle">2021</text>
<line x1="1038.1" y1="797" x2="1038.1" y2="802" stroke="#7a7a7a" stroke-width="1"/>
<text x="1038.1" y="813" font-size="12.5" fill="#444" text-anchor="middle">2022</text>
<line x1="1232.5" y1="797" x2="1232.5" y2="802" stroke="#7a7a7a" stroke-width="1"/>
<text x="1232.5" y="813" font-size="12.5" fill="#444" text-anchor="middle">2023</text>
<line x1="1426.7" y1="797" x2="1426.7" y2="802" stroke="#7a7a7a" stroke-width="1"/>
<text x="1426.7" y="813" font-size="12.5" fill="#444" text-anchor="middle">2024</text>
<text x="2" y="813" font-size="12.5" fill="#444">16</text>
<line x1="1.5" y1="797" x2="1.5" y2="802" stroke="#7a7a7a" stroke-width="1"/>
<rect x="1494" y="826" width="1" height="1" fill="#111"/><rect x="1495" y="825" width="1" height="1" fill="#111"/><rect x="1496" y="824" width="1" height="1" fill="#111"/><rect x="1496" y="826" width="1" height="1" fill="#111"/><rect x="1497" y="823" width="1" height="1" fill="#111"/><rect x="1497" y="825" width="1" height="1" fill="#111"/><rect x="1498" y="822" width="1" height="1" fill="#111"/><rect x="1498" y="824" width="1" height="1" fill="#111"/><rect x="1498" y="826" width="1" height="1" fill="#111"/><rect x="1499" y="821" width="1" height="1" fill="#111"/><rect x="1499" y="823" width="1" height="1" fill="#111"/><rect x="1499" y="825" width="1" height="1" fill="#111"/>
</svg>
<div id="lb"></div>
</body></html>
